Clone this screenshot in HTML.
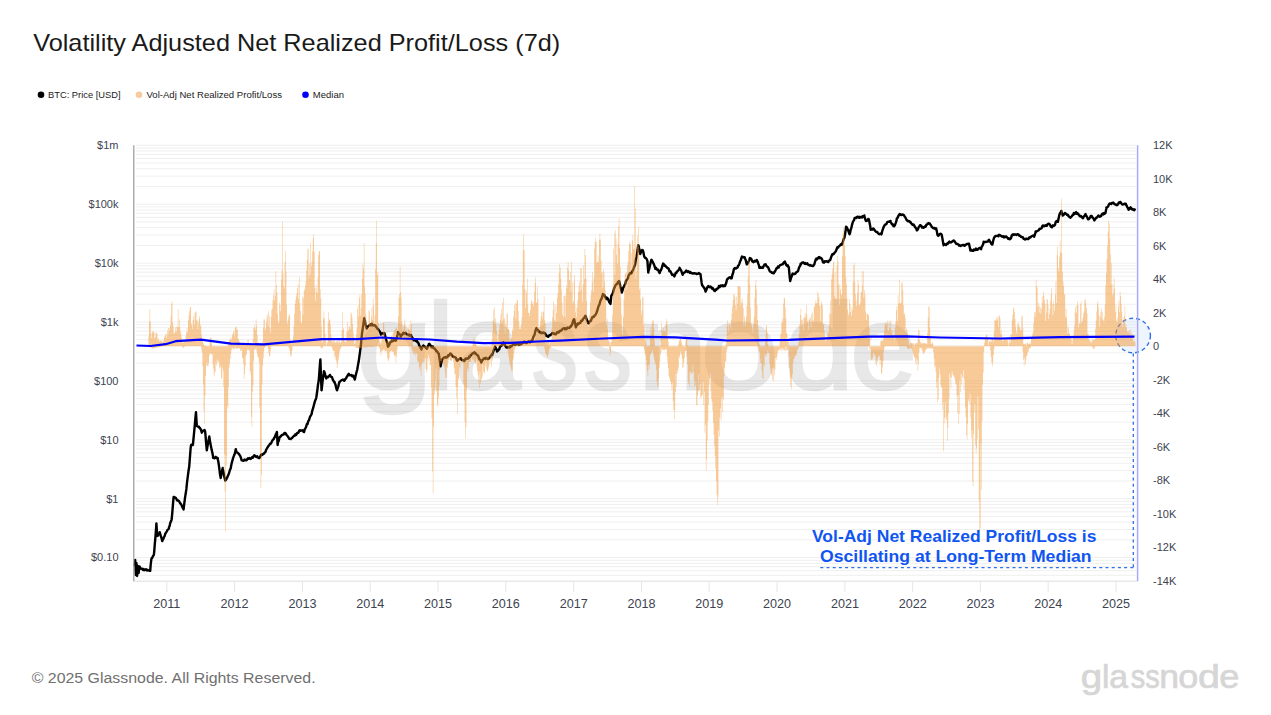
<!DOCTYPE html>
<html><head><meta charset="utf-8"><style>
html,body{margin:0;padding:0;background:#fff;width:1271px;height:715px;overflow:hidden}
svg{display:block;font-family:"Liberation Sans",sans-serif}
</style></head><body>
<svg width="1271" height="715" viewBox="0 0 1271 715">
<text x="33.2" y="51.3" font-size="23.6" fill="#1a1a1a" textLength="527" lengthAdjust="spacingAndGlyphs">Volatility Adjusted Net Realized Profit/Loss (7d)</text>
<g font-size="9.6" fill="#222">
<circle cx="41" cy="94.8" r="3.3" fill="#000"/><text x="48" y="98.3" textLength="72.6" lengthAdjust="spacingAndGlyphs">BTC: Price [USD]</text>
<circle cx="139" cy="94.8" r="3.3" fill="#f6cc9c"/><text x="146.5" y="98.3" textLength="135.5" lengthAdjust="spacingAndGlyphs">Vol-Adj Net Realized Profit/Loss</text>
<circle cx="305.5" cy="94.8" r="3.3" fill="#0000ff"/><text x="312.8" y="98.3" textLength="31.2" lengthAdjust="spacingAndGlyphs">Median</text>
</g>
<g stroke="#efefef" stroke-width="1"><line x1="136" x2="1136" y1="581.0" y2="581.0"/><line x1="136" x2="1136" y1="575.3" y2="575.3"/><line x1="136" x2="1136" y1="570.7" y2="570.7"/><line x1="136" x2="1136" y1="566.7" y2="566.7"/><line x1="136" x2="1136" y1="563.3" y2="563.3"/><line x1="136" x2="1136" y1="560.3" y2="560.3"/><line x1="136" x2="1136" y1="557.6" y2="557.6"/><line x1="136" x2="1136" y1="539.9" y2="539.9"/><line x1="136" x2="1136" y1="529.5" y2="529.5"/><line x1="136" x2="1136" y1="522.1" y2="522.1"/><line x1="136" x2="1136" y1="516.4" y2="516.4"/><line x1="136" x2="1136" y1="511.8" y2="511.8"/><line x1="136" x2="1136" y1="507.8" y2="507.8"/><line x1="136" x2="1136" y1="504.4" y2="504.4"/><line x1="136" x2="1136" y1="501.4" y2="501.4"/><line x1="136" x2="1136" y1="498.7" y2="498.7"/><line x1="136" x2="1136" y1="481.0" y2="481.0"/><line x1="136" x2="1136" y1="470.6" y2="470.6"/><line x1="136" x2="1136" y1="463.2" y2="463.2"/><line x1="136" x2="1136" y1="457.5" y2="457.5"/><line x1="136" x2="1136" y1="452.9" y2="452.9"/><line x1="136" x2="1136" y1="448.9" y2="448.9"/><line x1="136" x2="1136" y1="445.5" y2="445.5"/><line x1="136" x2="1136" y1="442.5" y2="442.5"/><line x1="136" x2="1136" y1="439.8" y2="439.8"/><line x1="136" x2="1136" y1="422.1" y2="422.1"/><line x1="136" x2="1136" y1="411.7" y2="411.7"/><line x1="136" x2="1136" y1="404.3" y2="404.3"/><line x1="136" x2="1136" y1="398.6" y2="398.6"/><line x1="136" x2="1136" y1="394.0" y2="394.0"/><line x1="136" x2="1136" y1="390.0" y2="390.0"/><line x1="136" x2="1136" y1="386.6" y2="386.6"/><line x1="136" x2="1136" y1="383.6" y2="383.6"/><line x1="136" x2="1136" y1="380.9" y2="380.9"/><line x1="136" x2="1136" y1="363.2" y2="363.2"/><line x1="136" x2="1136" y1="352.8" y2="352.8"/><line x1="136" x2="1136" y1="345.4" y2="345.4"/><line x1="136" x2="1136" y1="339.7" y2="339.7"/><line x1="136" x2="1136" y1="335.1" y2="335.1"/><line x1="136" x2="1136" y1="331.1" y2="331.1"/><line x1="136" x2="1136" y1="327.7" y2="327.7"/><line x1="136" x2="1136" y1="324.7" y2="324.7"/><line x1="136" x2="1136" y1="322.0" y2="322.0"/><line x1="136" x2="1136" y1="304.3" y2="304.3"/><line x1="136" x2="1136" y1="293.9" y2="293.9"/><line x1="136" x2="1136" y1="286.5" y2="286.5"/><line x1="136" x2="1136" y1="280.8" y2="280.8"/><line x1="136" x2="1136" y1="276.2" y2="276.2"/><line x1="136" x2="1136" y1="272.2" y2="272.2"/><line x1="136" x2="1136" y1="268.8" y2="268.8"/><line x1="136" x2="1136" y1="265.8" y2="265.8"/><line x1="136" x2="1136" y1="263.1" y2="263.1"/><line x1="136" x2="1136" y1="245.4" y2="245.4"/><line x1="136" x2="1136" y1="235.0" y2="235.0"/><line x1="136" x2="1136" y1="227.6" y2="227.6"/><line x1="136" x2="1136" y1="221.9" y2="221.9"/><line x1="136" x2="1136" y1="217.3" y2="217.3"/><line x1="136" x2="1136" y1="213.3" y2="213.3"/><line x1="136" x2="1136" y1="209.9" y2="209.9"/><line x1="136" x2="1136" y1="206.9" y2="206.9"/><line x1="136" x2="1136" y1="204.2" y2="204.2"/><line x1="136" x2="1136" y1="186.5" y2="186.5"/><line x1="136" x2="1136" y1="176.1" y2="176.1"/><line x1="136" x2="1136" y1="168.7" y2="168.7"/><line x1="136" x2="1136" y1="163.0" y2="163.0"/><line x1="136" x2="1136" y1="158.4" y2="158.4"/><line x1="136" x2="1136" y1="154.4" y2="154.4"/><line x1="136" x2="1136" y1="151.0" y2="151.0"/><line x1="136" x2="1136" y1="148.0" y2="148.0"/><line x1="136" x2="1136" y1="145.3" y2="145.3"/></g>
<g font-size="121.5" fill="#000" stroke="#000" stroke-width="2.7" opacity="0.088"><text transform="translate(356.6,389.2) scale(1.124,1)">g</text><text transform="translate(427.1,389.2) scale(1.000,1)">l</text><text transform="translate(455.4,389.2) scale(0.967,1)">a</text><text transform="translate(531.8,389.2) scale(0.762,1)">s</text><text transform="translate(583.6,389.2) scale(0.800,1)">s</text><text transform="translate(638.2,389.2) scale(1.015,1)">n</text><text transform="translate(700.4,389.2) scale(1.159,1)">o</text><text transform="translate(784.1,389.2) scale(1.032,1)">d</text><text transform="translate(850.3,389.2) scale(0.988,1)">e</text></g>
<circle cx="1133.1" cy="335.5" r="17.3" fill="rgba(190,215,250,0.25)" stroke="#2f6fe8" stroke-width="1.4" stroke-dasharray="4 3"/>
<path d="M134.6,566.0 L135.2,560.0 L135.3,562.7 L135.8,575.0 L136.0,570.9 L136.4,563.0 L136.7,567.7 L137.1,576.0 L137.4,570.8 L137.8,566.0 L138.1,567.7 L138.6,573.0 L138.8,571.1 L139.4,567.0 L139.5,566.4 L140.1,567.5 L140.2,567.7 L140.9,568.8 L141.6,568.9 L142.3,568.8 L143.0,570.0 L143.7,569.0 L144.4,570.2 L145.1,570.0 L145.1,570.0 L145.8,569.3 L146.5,569.4 L147.2,570.5 L147.9,569.9 L148.6,570.4 L149.3,570.8 L150.0,570.6 L150.2,570.8 L150.7,564.7 L151.4,558.8 L151.4,558.7 L152.1,557.9 L152.8,556.6 L153.5,555.2 L153.9,554.9 L154.2,551.6 L154.9,542.8 L155.2,539.8 L155.6,534.9 L156.3,525.1 L156.4,523.4 L157.0,532.7 L157.2,536.0 L157.7,535.8 L158.4,534.1 L159.1,534.0 L159.7,532.2 L159.8,532.3 L160.5,535.3 L161.2,537.0 L161.9,539.6 L162.2,541.1 L162.6,540.3 L163.3,539.0 L164.0,537.1 L164.7,535.9 L165.3,533.5 L165.4,533.7 L166.1,532.5 L166.8,531.3 L167.5,529.9 L168.2,529.3 L168.9,528.7 L169.0,527.2 L169.6,525.9 L170.3,522.8 L171.0,521.4 L171.6,519.6 L171.7,519.1 L172.4,511.4 L173.1,502.6 L173.6,497.0 L173.8,497.5 L174.5,497.0 L175.2,497.9 L175.9,498.0 L176.6,499.5 L176.6,499.5 L177.3,500.5 L178.0,500.4 L178.7,500.8 L179.4,501.7 L180.1,503.4 L180.4,503.3 L180.8,503.7 L181.5,505.0 L182.2,506.8 L182.9,508.2 L183.6,509.5 L183.7,508.3 L184.3,503.3 L185.0,497.9 L185.7,493.5 L186.4,488.9 L186.7,485.6 L187.1,481.8 L187.8,476.4 L188.5,471.0 L189.2,466.8 L189.2,466.7 L189.9,457.7 L190.6,448.5 L191.0,445.3 L191.3,444.7 L192.0,444.6 L192.7,445.1 L193.0,444.1 L193.4,439.7 L194.1,432.5 L194.8,425.2 L195.5,416.8 L196.0,412.1 L196.2,416.3 L196.8,425.2 L196.9,426.1 L197.6,426.2 L198.3,426.7 L199.0,426.6 L199.3,427.7 L199.7,427.7 L200.4,428.7 L201.1,430.1 L201.8,432.7 L201.8,432.7 L202.5,431.5 L203.2,430.7 L203.9,430.5 L204.6,430.1 L205.1,431.5 L205.3,432.9 L206.0,441.6 L206.7,449.3 L206.8,450.4 L207.4,446.7 L208.1,442.8 L208.8,438.9 L209.3,436.5 L209.5,437.9 L210.2,442.6 L210.9,445.9 L211.6,449.6 L212.3,452.6 L213.0,456.1 L213.1,457.9 L213.7,457.3 L214.4,458.2 L215.1,457.5 L215.8,456.8 L216.5,458.1 L217.2,458.1 L217.7,457.9 L217.9,459.5 L218.6,463.3 L219.3,468.4 L220.0,474.2 L220.7,478.1 L220.7,478.0 L221.4,474.1 L222.1,470.5 L222.7,468.0 L222.8,468.9 L223.5,472.3 L224.2,476.2 L224.9,479.1 L225.2,480.6 L225.6,480.2 L226.3,479.3 L227.0,477.9 L227.7,476.3 L228.4,474.7 L229.1,473.0 L229.8,470.3 L230.5,468.7 L230.8,468.0 L231.2,465.4 L231.9,462.3 L232.6,459.9 L233.3,457.4 L234.0,455.6 L234.7,454.0 L235.4,450.9 L235.8,449.1 L236.1,450.8 L236.8,452.4 L237.5,452.7 L238.2,453.2 L238.9,454.1 L239.6,455.0 L240.3,456.2 L241.0,458.1 L241.7,460.3 L242.1,460.5 L242.4,460.5 L243.1,460.6 L243.8,460.8 L244.5,459.5 L245.2,459.8 L245.9,460.3 L246.6,460.3 L247.1,459.2 L247.3,459.3 L248.0,458.3 L248.7,458.8 L249.4,458.1 L250.1,458.5 L250.8,458.9 L251.5,457.9 L252.2,457.2 L252.9,457.8 L253.4,456.7 L253.6,456.1 L254.3,455.2 L255.0,455.7 L255.7,456.5 L256.4,457.1 L257.1,456.2 L257.8,457.2 L258.5,458.1 L259.2,458.1 L259.8,457.4 L259.9,457.3 L260.6,455.8 L261.3,454.4 L262.0,455.1 L262.7,454.6 L263.4,453.7 L264.1,453.6 L264.8,452.3 L265.5,452.1 L265.7,450.9 L266.2,449.8 L266.9,448.5 L267.6,447.3 L268.3,446.1 L269.0,445.6 L269.7,444.3 L270.4,443.4 L270.5,443.8 L271.1,443.3 L271.8,441.6 L272.5,440.3 L273.2,439.4 L273.9,438.9 L274.0,437.9 L274.6,437.5 L275.3,435.7 L276.0,434.0 L276.7,432.5 L276.9,431.9 L277.4,441.4 L277.6,445.0 L278.1,442.1 L278.8,440.7 L279.5,437.6 L280.0,436.7 L280.2,436.9 L280.9,436.3 L281.6,435.3 L282.3,434.9 L283.0,434.5 L283.7,434.5 L284.4,432.9 L284.7,433.1 L285.1,433.0 L285.8,433.5 L286.5,435.0 L287.2,435.7 L287.9,436.5 L288.6,437.6 L289.3,438.8 L290.0,438.9 L290.7,439.1 L290.7,439.0 L291.4,438.3 L292.1,438.0 L292.8,437.0 L293.5,436.3 L294.2,435.5 L294.9,435.7 L295.4,434.3 L295.6,435.0 L296.3,434.8 L297.0,433.2 L297.7,432.6 L298.4,432.7 L299.0,431.2 L299.1,430.7 L299.8,430.3 L300.5,430.8 L301.2,430.4 L301.9,430.5 L302.6,430.3 L303.3,431.4 L303.7,431.9 L304.0,432.1 L304.7,429.4 L305.4,428.3 L306.1,426.9 L306.8,424.3 L307.3,423.6 L307.5,424.1 L308.2,421.3 L308.9,420.4 L309.6,418.1 L310.3,416.2 L311.0,415.3 L311.7,413.8 L312.0,411.7 L312.4,410.4 L313.1,408.2 L313.8,405.5 L314.5,402.8 L315.2,400.4 L315.9,398.9 L316.3,397.5 L316.6,395.5 L317.3,390.5 L318.0,384.7 L318.7,380.8 L318.7,380.8 L319.4,371.9 L320.1,362.1 L320.4,359.4 L320.8,371.3 L321.5,390.1 L321.6,390.3 L322.2,384.7 L322.9,378.4 L323.6,373.9 L323.9,371.3 L324.3,371.6 L325.0,373.9 L325.7,377.1 L326.3,378.4 L326.4,378.0 L327.1,376.8 L327.8,377.3 L328.5,376.6 L329.2,376.1 L329.9,374.9 L329.9,374.9 L330.6,376.2 L331.3,377.0 L332.0,377.2 L332.7,379.5 L333.4,380.6 L334.1,382.0 L334.6,382.0 L334.8,383.2 L335.5,384.6 L336.2,387.9 L336.9,390.1 L337.0,390.3 L337.6,388.3 L338.3,386.6 L339.0,383.4 L339.4,382.0 L339.7,381.9 L340.4,381.2 L341.1,380.5 L341.8,380.2 L342.5,379.7 L343.2,379.6 L343.9,379.7 L344.1,380.8 L344.6,380.6 L345.3,379.1 L346.0,378.4 L346.7,376.9 L347.4,376.1 L348.1,374.6 L348.8,373.8 L348.9,374.9 L349.5,375.2 L350.2,375.4 L350.9,374.9 L351.6,375.2 L352.3,376.4 L353.0,375.5 L353.6,376.1 L353.7,376.2 L354.4,378.3 L354.8,379.6 L355.1,378.3 L355.8,375.1 L356.5,372.2 L357.2,369.7 L357.9,365.6 L358.4,363.0 L358.6,362.1 L359.3,357.2 L360.0,351.9 L360.7,346.7 L360.8,346.4 L361.4,339.7 L362.1,332.8 L362.4,330.9 L362.8,328.1 L363.5,323.1 L364.2,318.2 L364.3,318.5 L364.9,321.6 L365.6,324.5 L366.3,326.7 L366.7,328.5 L367.0,327.8 L367.7,327.2 L368.4,326.0 L369.1,325.6 L369.8,324.7 L370.5,325.2 L371.2,325.2 L371.5,323.8 L371.9,323.7 L372.6,325.3 L373.3,325.2 L374.0,325.4 L374.7,325.1 L375.4,325.9 L376.1,326.7 L376.2,327.3 L376.8,327.6 L377.5,328.9 L378.2,329.2 L378.9,330.3 L379.6,331.0 L380.3,332.5 L381.0,334.5 L381.0,334.5 L381.7,333.7 L382.4,333.2 L383.1,333.5 L383.8,333.4 L384.5,333.3 L384.5,333.3 L385.2,336.1 L385.9,339.2 L386.6,341.1 L387.3,343.2 L388.0,346.8 L388.1,346.4 L388.7,345.8 L389.4,344.7 L390.1,342.4 L390.8,342.2 L391.5,341.6 L391.7,340.4 L392.2,340.9 L392.9,341.2 L393.6,340.1 L394.3,340.2 L395.0,340.2 L395.7,340.8 L396.0,340.1 L396.4,339.4 L397.1,336.4 L397.8,334.1 L398.0,332.1 L398.5,333.5 L399.2,333.9 L399.9,334.4 L400.6,335.4 L400.7,336.8 L401.3,335.0 L402.0,335.0 L402.7,334.0 L403.4,332.8 L403.4,332.8 L404.1,333.5 L404.8,333.5 L405.5,332.8 L406.2,334.0 L406.7,334.1 L406.9,334.3 L407.6,334.6 L408.3,335.2 L409.0,334.5 L409.7,335.5 L410.4,335.3 L411.1,335.0 L411.4,336.1 L411.8,337.2 L412.5,337.9 L413.2,339.9 L413.4,340.1 L413.9,340.4 L414.6,340.2 L415.3,340.4 L416.0,340.9 L416.7,341.5 L416.8,340.8 L417.4,342.2 L418.1,342.4 L418.8,344.1 L418.8,344.2 L419.5,346.0 L420.2,346.8 L420.9,348.5 L421.4,349.5 L421.6,348.2 L422.3,346.8 L423.0,346.1 L423.4,345.5 L423.7,346.1 L424.4,346.2 L425.1,347.1 L425.8,347.7 L426.5,348.4 L426.8,348.8 L427.2,348.5 L427.9,346.0 L428.6,345.4 L428.8,344.1 L429.3,343.8 L430.0,344.6 L430.7,345.9 L431.4,347.2 L431.5,346.1 L432.1,346.3 L432.8,346.5 L433.5,348.3 L434.2,348.1 L434.9,349.0 L435.5,349.5 L435.6,349.6 L436.3,351.3 L437.0,351.1 L437.7,352.6 L438.4,353.3 L438.8,353.5 L439.1,356.1 L439.8,360.4 L440.5,366.4 L440.6,366.2 L441.2,363.3 L441.9,360.5 L442.6,358.8 L442.8,358.9 L443.3,358.2 L444.0,357.5 L444.7,357.3 L445.4,357.0 L446.1,357.8 L446.2,357.5 L446.8,357.2 L447.5,357.0 L448.2,355.2 L448.9,355.5 L449.6,354.9 L450.2,353.5 L450.3,353.4 L451.0,354.0 L451.7,354.6 L452.4,356.4 L452.9,356.2 L453.1,356.2 L453.8,356.9 L454.5,357.3 L455.2,357.3 L455.9,357.8 L456.6,359.8 L456.9,360.2 L457.3,360.8 L458.0,359.8 L458.7,359.1 L459.4,359.1 L460.1,358.4 L460.8,358.2 L460.9,358.9 L461.5,359.8 L462.2,360.1 L462.9,360.0 L463.6,360.5 L464.3,360.9 L464.9,359.5 L465.0,360.0 L465.7,358.6 L466.4,358.9 L467.1,358.4 L467.8,358.5 L468.5,358.3 L468.9,357.5 L469.2,356.4 L469.9,356.9 L470.6,355.3 L471.3,354.8 L472.0,354.0 L472.7,353.1 L473.4,353.1 L474.1,353.3 L474.3,352.2 L474.8,353.0 L475.5,353.2 L476.2,354.1 L476.9,354.8 L476.9,354.8 L477.6,355.2 L478.3,356.1 L479.0,358.5 L479.7,359.6 L480.4,360.1 L481.0,361.5 L481.1,362.5 L481.8,361.4 L482.5,360.1 L483.2,359.2 L483.9,358.3 L484.6,358.1 L485.0,358.9 L485.3,358.1 L486.0,357.8 L486.7,358.2 L487.4,359.0 L488.1,359.1 L488.8,358.5 L489.0,358.2 L489.5,357.7 L490.2,356.8 L490.9,355.8 L491.6,354.5 L492.3,354.9 L492.3,354.8 L493.0,352.2 L493.7,350.4 L494.4,348.7 L495.0,346.8 L495.1,346.6 L495.8,348.0 L496.5,349.5 L497.0,351.5 L497.2,351.0 L497.9,350.8 L498.6,350.0 L499.3,349.1 L500.0,346.5 L500.4,346.1 L500.7,346.0 L501.4,346.0 L502.1,344.8 L502.8,344.1 L503.5,342.3 L503.7,342.8 L504.2,344.1 L504.9,345.2 L505.6,346.3 L506.3,347.4 L507.0,347.0 L507.7,347.5 L507.7,347.5 L508.4,347.1 L509.1,347.1 L509.8,347.4 L510.4,346.1 L510.5,346.5 L511.2,346.5 L511.9,345.7 L512.6,345.3 L513.3,344.0 L514.0,344.5 L514.4,344.1 L514.7,344.9 L515.4,344.9 L516.1,344.4 L516.8,343.7 L517.5,343.7 L518.2,344.4 L518.9,345.0 L519.6,344.2 L519.7,344.8 L520.3,344.4 L521.0,344.3 L521.7,343.7 L522.4,342.9 L523.1,343.0 L523.8,341.8 L524.5,341.5 L525.1,342.1 L525.2,342.9 L525.9,342.8 L526.6,343.1 L527.3,342.5 L528.0,341.7 L528.7,341.2 L529.4,342.3 L530.1,342.3 L530.8,341.6 L531.5,340.6 L531.8,341.5 L532.2,340.6 L532.9,338.5 L533.6,336.2 L533.8,336.1 L534.3,335.5 L535.0,332.7 L535.7,329.9 L536.4,328.1 L536.5,328.8 L537.1,329.6 L537.8,329.7 L538.5,331.1 L539.2,332.1 L539.8,332.1 L539.9,331.6 L540.6,332.9 L541.3,332.5 L542.0,333.2 L542.7,332.6 L543.4,332.4 L544.1,333.3 L544.8,333.0 L545.2,333.4 L545.5,334.2 L546.2,335.0 L546.5,336.1 L546.9,335.8 L547.6,336.1 L548.3,336.8 L549.0,335.5 L549.7,335.3 L550.4,334.8 L550.5,335.4 L551.1,334.6 L551.8,333.6 L552.5,333.0 L553.2,333.1 L553.9,333.9 L554.5,333.4 L554.6,334.0 L555.3,334.4 L556.0,334.3 L556.7,333.0 L557.4,331.9 L558.1,332.6 L558.8,332.4 L559.5,330.9 L560.2,331.1 L560.9,330.5 L561.4,330.5 L561.6,330.1 L562.3,329.3 L563.0,328.4 L563.7,328.4 L564.4,328.3 L565.1,329.3 L565.8,328.2 L566.5,329.0 L567.2,327.9 L567.9,327.4 L568.6,327.9 L569.3,328.0 L570.0,327.3 L570.7,326.0 L571.1,326.5 L571.4,325.4 L572.1,324.6 L572.8,321.9 L573.5,320.0 L574.0,319.2 L574.2,319.4 L574.9,322.5 L575.6,326.3 L575.9,327.3 L576.3,326.1 L577.0,324.7 L577.7,323.6 L578.4,324.3 L579.1,323.1 L579.8,322.9 L580.5,322.8 L580.7,321.7 L581.2,320.7 L581.9,320.9 L582.6,320.0 L583.3,318.5 L584.0,318.2 L584.7,316.9 L585.4,315.7 L585.6,316.0 L586.1,317.5 L586.8,319.8 L587.5,321.2 L588.2,323.3 L588.8,323.3 L588.9,322.5 L589.6,321.5 L590.3,321.3 L591.0,320.6 L591.7,318.6 L592.0,317.6 L592.4,317.2 L593.1,316.7 L593.8,317.0 L594.5,315.6 L595.2,315.2 L595.2,315.2 L595.9,314.1 L596.6,312.5 L597.3,310.5 L598.0,308.0 L598.7,305.8 L599.2,304.8 L599.4,304.8 L600.1,301.9 L600.8,299.8 L601.5,298.8 L602.2,296.5 L602.9,294.1 L603.2,294.3 L603.6,294.5 L604.3,295.0 L605.0,296.8 L605.7,297.9 L606.4,299.0 L606.5,297.5 L607.1,297.8 L607.8,298.5 L608.5,300.2 L609.2,302.0 L609.9,303.0 L610.5,304.0 L610.6,302.5 L611.3,295.9 L611.3,295.9 L612.0,294.6 L612.7,293.2 L613.4,291.2 L614.1,288.3 L614.8,287.3 L615.3,285.5 L615.5,285.4 L616.2,284.4 L616.9,284.2 L617.6,282.8 L618.3,281.8 L619.0,280.9 L619.3,281.5 L619.7,283.6 L620.4,286.6 L621.1,289.1 L621.7,291.9 L621.8,292.6 L622.5,290.4 L623.2,287.9 L623.9,286.7 L624.6,285.0 L625.3,283.9 L625.8,281.5 L626.0,280.9 L626.7,280.1 L627.4,279.1 L628.1,278.1 L628.2,276.6 L628.8,275.4 L629.5,274.0 L630.2,273.0 L630.9,273.5 L631.4,272.6 L631.6,273.0 L632.3,271.0 L633.0,270.2 L633.7,268.3 L634.4,266.3 L634.6,266.2 L635.1,264.6 L635.8,259.9 L636.5,256.7 L637.0,254.1 L637.2,252.3 L637.9,247.5 L638.3,245.3 L638.6,246.0 L639.3,249.0 L640.0,252.8 L640.2,254.1 L640.7,252.8 L641.4,250.9 L642.1,250.0 L642.6,250.1 L642.8,250.1 L643.5,252.9 L644.2,256.4 L644.2,256.5 L644.9,257.7 L645.6,257.8 L646.3,258.5 L647.0,259.8 L647.5,261.4 L647.7,264.9 L648.3,272.6 L648.4,271.3 L649.1,269.2 L649.8,266.3 L650.5,263.1 L651.2,260.2 L651.5,259.7 L651.9,260.3 L652.6,262.0 L653.3,263.1 L654.0,264.5 L654.7,266.7 L655.4,268.8 L655.5,267.8 L656.1,268.0 L656.8,269.5 L657.5,269.7 L658.2,269.8 L658.9,272.0 L659.5,272.6 L659.6,273.0 L660.3,271.0 L661.0,270.2 L661.7,268.2 L662.4,265.8 L663.1,263.6 L663.5,263.8 L663.8,264.2 L664.5,265.7 L665.2,265.4 L665.9,266.5 L666.6,267.1 L667.3,268.0 L668.0,268.1 L668.7,268.9 L669.2,270.2 L669.4,271.2 L670.1,271.0 L670.8,271.9 L671.5,273.4 L672.2,274.9 L672.9,274.6 L673.6,274.7 L674.0,275.8 L674.3,276.4 L675.0,274.9 L675.7,272.8 L676.4,272.9 L677.1,271.4 L677.8,271.2 L678.5,270.1 L679.2,269.4 L679.6,267.8 L679.9,268.9 L680.6,269.5 L681.3,270.8 L682.0,273.0 L682.7,274.8 L682.8,274.2 L683.4,273.2 L684.1,272.7 L684.8,272.4 L685.5,271.7 L686.2,270.6 L686.9,271.0 L686.9,271.0 L687.6,272.1 L688.3,271.2 L689.0,271.8 L689.7,272.7 L690.4,271.9 L691.1,273.1 L691.7,273.1 L691.8,273.2 L692.5,273.3 L693.2,273.6 L693.9,273.2 L694.6,273.2 L695.3,273.6 L696.0,273.5 L696.7,274.0 L697.4,273.8 L698.1,273.8 L698.8,273.0 L699.5,273.8 L700.2,274.0 L700.5,274.2 L700.9,277.3 L701.6,282.5 L702.1,285.3 L702.3,285.1 L703.0,286.5 L703.7,287.2 L704.4,288.2 L705.1,289.9 L705.6,291.6 L705.8,290.8 L706.5,289.6 L707.2,287.4 L707.9,286.7 L708.4,286.0 L708.6,286.4 L709.3,287.1 L710.0,287.2 L710.7,286.5 L711.2,287.4 L711.4,287.2 L712.1,288.7 L712.8,288.1 L713.5,289.4 L714.2,290.6 L714.9,291.0 L715.4,290.2 L715.6,289.5 L716.3,289.8 L717.0,288.6 L717.7,288.5 L718.4,287.9 L718.9,286.0 L719.1,286.5 L719.8,287.0 L720.5,285.7 L721.2,285.4 L721.9,286.0 L722.6,285.2 L723.3,286.2 L724.0,285.5 L724.7,286.1 L725.2,285.6 L725.4,284.8 L726.1,283.4 L726.8,280.3 L727.3,279.0 L727.5,278.9 L728.2,278.4 L728.9,277.6 L729.6,277.4 L730.3,277.2 L731.0,278.5 L731.5,278.3 L731.7,278.3 L732.4,274.8 L733.1,273.0 L733.8,269.6 L734.3,268.5 L734.5,268.6 L735.2,268.0 L735.9,268.5 L736.6,268.0 L737.3,267.7 L737.7,267.1 L738.0,265.9 L738.7,265.3 L739.4,263.6 L740.1,261.3 L740.8,260.1 L741.5,257.6 L741.9,256.6 L742.2,257.0 L742.9,256.8 L743.6,257.5 L744.3,257.3 L744.7,257.3 L745.0,258.6 L745.7,259.9 L746.4,263.1 L746.8,264.3 L747.1,264.0 L747.8,263.4 L748.5,261.7 L749.2,260.3 L749.6,258.7 L749.9,258.0 L750.6,258.3 L751.3,258.9 L752.0,260.5 L752.4,261.5 L752.7,261.5 L753.4,262.2 L754.1,261.2 L754.8,260.8 L755.5,261.4 L756.2,260.6 L756.9,260.0 L757.3,261.5 L757.6,261.4 L758.3,263.7 L759.0,265.6 L759.4,267.8 L759.7,267.9 L760.4,267.3 L761.1,267.8 L761.8,267.7 L762.5,267.1 L762.9,267.8 L763.2,267.0 L763.9,265.7 L764.6,264.4 L765.3,264.4 L765.7,264.3 L766.0,265.4 L766.7,266.1 L767.4,266.8 L768.1,267.2 L768.8,269.1 L769.5,270.6 L769.9,271.3 L770.2,271.6 L770.9,271.6 L771.6,272.7 L772.3,273.0 L773.0,272.4 L773.7,273.3 L774.1,272.7 L774.4,272.3 L775.1,271.2 L775.8,269.8 L776.5,268.3 L777.2,268.4 L777.9,266.6 L778.3,267.1 L778.6,267.6 L779.3,266.1 L780.0,265.1 L780.7,265.0 L781.4,264.6 L782.1,264.4 L782.8,264.3 L783.5,262.8 L784.2,262.0 L784.6,262.2 L784.9,261.6 L785.6,263.6 L786.3,264.9 L787.0,265.8 L787.7,265.3 L788.4,267.0 L788.8,267.1 L789.1,270.4 L789.8,277.8 L790.2,281.1 L790.5,279.8 L791.2,277.5 L791.9,275.7 L792.6,273.6 L793.0,274.1 L793.3,274.2 L794.0,274.0 L794.7,274.1 L795.4,273.6 L796.1,272.4 L796.8,272.0 L797.5,271.5 L797.9,271.3 L798.2,270.5 L798.9,268.1 L799.6,266.6 L800.3,265.5 L800.7,263.6 L801.0,264.3 L801.7,262.9 L802.4,262.6 L803.1,262.3 L803.8,263.0 L804.5,263.8 L804.9,262.9 L805.2,262.9 L805.9,263.9 L806.6,263.6 L807.3,263.3 L808.0,264.6 L808.7,264.9 L809.4,265.3 L810.1,265.6 L810.4,265.0 L810.8,265.2 L811.5,265.7 L812.2,265.8 L812.9,266.1 L813.6,265.5 L813.9,265.0 L814.3,264.3 L815.0,261.9 L815.7,259.6 L816.0,259.4 L816.4,258.5 L817.1,259.4 L817.8,258.3 L818.5,257.4 L819.2,257.0 L819.9,258.2 L820.2,258.0 L820.6,257.8 L821.3,258.3 L822.0,259.1 L822.7,261.2 L823.0,262.2 L823.4,262.5 L824.1,262.6 L824.8,261.3 L825.5,261.5 L826.2,261.1 L826.9,261.7 L827.6,261.9 L828.3,262.1 L828.6,260.8 L829.0,260.9 L829.7,260.3 L830.4,259.6 L831.1,257.2 L831.8,255.5 L832.5,254.0 L832.8,254.5 L833.2,254.4 L833.9,253.8 L834.6,252.7 L835.3,252.0 L836.0,250.8 L836.7,249.0 L837.4,247.2 L837.7,247.5 L838.1,247.6 L838.8,246.4 L839.5,245.8 L840.2,245.4 L840.9,244.2 L841.6,243.8 L841.9,244.7 L842.3,243.8 L843.0,241.3 L843.7,238.9 L844.4,237.9 L844.7,236.3 L845.1,234.2 L845.8,229.2 L846.1,226.6 L846.5,227.0 L847.2,228.1 L847.9,229.9 L848.2,230.1 L848.6,231.7 L849.3,233.7 L849.6,234.3 L850.0,233.3 L850.7,229.6 L851.4,227.8 L852.1,224.4 L852.4,223.8 L852.8,221.9 L853.5,220.9 L854.2,219.9 L854.5,218.2 L854.9,217.9 L855.6,217.7 L856.3,218.0 L857.0,216.9 L857.7,216.7 L858.0,216.8 L858.4,217.4 L859.1,216.8 L859.8,217.8 L860.5,217.2 L861.2,216.8 L861.9,217.5 L862.2,217.5 L862.6,216.3 L863.3,216.4 L863.3,216.4 L864.0,216.1 L864.3,215.4 L864.7,217.4 L865.4,219.7 L866.0,221.1 L866.1,220.8 L866.8,220.2 L867.5,220.6 L868.2,219.0 L868.7,219.1 L868.9,219.4 L869.6,222.9 L870.3,226.6 L870.7,229.8 L871.0,229.7 L871.7,229.1 L872.4,229.5 L873.1,228.4 L873.4,228.4 L873.8,228.9 L874.5,230.1 L875.2,231.0 L875.9,231.7 L876.6,231.8 L877.3,232.1 L877.4,232.5 L878.0,233.3 L878.7,233.7 L879.4,234.2 L880.1,233.6 L880.8,233.9 L881.4,234.5 L881.5,234.3 L882.2,231.2 L882.9,229.1 L883.4,227.8 L883.6,227.1 L884.3,225.7 L885.0,224.7 L885.7,224.5 L886.4,224.2 L886.8,223.1 L887.1,222.3 L887.8,221.9 L888.5,221.7 L889.2,221.9 L889.9,221.2 L890.6,221.0 L890.8,221.8 L891.3,223.2 L892.0,224.3 L892.7,224.2 L893.4,226.2 L894.1,226.4 L894.1,226.4 L894.8,225.4 L895.5,223.6 L896.2,221.7 L896.8,219.1 L896.9,218.4 L897.6,217.8 L898.3,216.0 L899.0,214.8 L899.5,215.1 L899.7,214.0 L900.4,214.1 L901.1,214.9 L901.8,215.0 L902.5,214.7 L902.8,214.4 L903.2,214.9 L903.9,215.1 L904.6,216.5 L905.3,217.3 L906.0,218.8 L906.7,220.3 L907.4,220.7 L907.5,220.4 L908.1,221.3 L908.8,221.3 L909.5,221.2 L910.2,222.2 L910.8,222.4 L910.9,223.1 L911.6,223.7 L912.3,224.6 L913.0,225.0 L913.5,224.4 L913.7,224.8 L914.4,225.7 L915.1,227.4 L915.8,227.8 L916.5,229.3 L916.8,230.4 L917.2,230.3 L917.9,229.3 L918.6,227.4 L919.3,226.3 L920.0,225.2 L920.2,225.1 L920.7,225.3 L921.4,226.3 L922.1,227.6 L922.8,227.1 L923.5,227.7 L923.5,227.8 L924.2,227.1 L924.9,226.5 L925.6,226.8 L926.3,224.9 L927.0,224.6 L927.7,223.4 L928.4,223.7 L928.9,223.1 L929.1,223.5 L929.8,223.5 L930.5,224.8 L931.2,225.8 L931.9,227.1 L932.2,227.1 L932.6,227.5 L933.3,228.3 L934.0,228.2 L934.7,228.0 L935.4,229.1 L936.1,228.3 L936.2,228.4 L936.8,231.1 L937.5,235.1 L937.6,235.1 L938.2,235.9 L938.9,235.1 L939.6,234.1 L940.3,233.8 L941.0,233.9 L941.6,234.5 L941.7,234.7 L942.4,238.4 L943.1,242.7 L943.6,245.2 L943.8,244.6 L944.5,244.0 L945.2,244.5 L945.9,245.0 L946.6,244.4 L947.3,243.3 L948.0,243.7 L948.3,243.2 L948.7,242.4 L949.4,241.6 L950.1,242.2 L950.8,242.5 L951.5,242.1 L952.2,241.5 L952.9,241.1 L953.6,240.5 L953.6,240.5 L954.3,240.9 L955.0,241.9 L955.7,243.0 L956.4,243.9 L957.1,244.0 L957.8,244.0 L958.5,244.8 L959.0,245.2 L959.2,245.7 L959.9,245.3 L960.6,246.0 L961.3,245.4 L962.0,245.3 L962.7,245.0 L963.4,245.2 L964.1,244.9 L964.3,245.8 L964.8,245.8 L965.5,245.0 L966.2,244.4 L966.9,244.0 L967.6,244.0 L968.3,243.7 L969.0,243.8 L969.0,243.8 L969.7,247.0 L970.4,250.5 L970.4,250.5 L971.1,249.6 L971.8,250.4 L972.5,250.9 L973.2,250.9 L973.9,249.6 L974.6,250.1 L975.3,250.0 L976.0,248.6 L976.4,249.2 L976.7,249.8 L977.4,249.8 L978.1,249.1 L978.8,248.4 L979.5,248.0 L980.2,248.0 L980.9,249.1 L981.1,249.2 L981.6,247.0 L982.3,246.1 L983.0,244.6 L983.7,241.9 L983.7,241.8 L984.4,241.9 L985.1,242.0 L985.8,241.8 L986.5,241.9 L987.2,241.7 L987.9,241.5 L988.6,240.1 L989.1,239.8 L989.3,240.2 L990.0,241.6 L990.7,242.3 L991.4,243.9 L992.1,244.6 L992.4,244.5 L992.8,242.6 L993.5,239.6 L994.2,237.4 L994.4,237.1 L994.9,236.7 L995.6,235.9 L996.3,236.0 L997.0,235.9 L997.7,235.8 L998.4,236.3 L999.1,234.8 L999.8,235.1 L999.8,235.1 L1000.5,235.5 L1001.2,236.0 L1001.9,236.7 L1002.6,236.3 L1003.3,236.3 L1004.0,237.4 L1004.7,236.4 L1005.4,237.1 L1005.8,237.1 L1006.1,236.4 L1006.8,237.2 L1007.5,237.8 L1008.2,238.8 L1008.9,238.2 L1009.6,239.2 L1010.3,239.0 L1010.5,238.5 L1011.0,238.2 L1011.7,235.6 L1012.4,234.8 L1012.5,234.5 L1013.1,234.2 L1013.8,235.0 L1014.5,234.5 L1015.2,234.4 L1015.9,234.5 L1016.6,235.0 L1017.3,234.2 L1018.0,234.2 L1018.5,234.5 L1018.7,234.7 L1019.4,235.7 L1020.1,235.6 L1020.8,236.7 L1021.5,236.7 L1022.2,237.2 L1022.9,237.2 L1023.2,237.8 L1023.6,238.8 L1024.3,238.9 L1025.0,239.4 L1025.7,238.9 L1026.4,238.6 L1027.1,239.1 L1027.1,239.1 L1027.8,239.0 L1028.5,239.0 L1029.2,237.4 L1029.9,237.6 L1030.4,237.2 L1030.6,237.4 L1031.3,236.4 L1032.0,236.2 L1032.7,235.6 L1033.4,235.5 L1034.1,236.8 L1034.2,236.7 L1034.8,234.8 L1035.5,232.6 L1035.6,231.5 L1036.2,231.6 L1036.9,231.2 L1037.6,230.8 L1038.3,230.5 L1039.0,229.9 L1039.4,229.2 L1039.7,228.6 L1040.4,228.8 L1041.1,228.5 L1041.7,228.2 L1041.8,227.4 L1042.5,225.7 L1043.1,225.4 L1043.2,225.7 L1043.9,226.3 L1044.6,226.0 L1045.3,225.3 L1046.0,225.8 L1046.7,225.9 L1046.9,224.9 L1047.4,224.4 L1048.1,223.9 L1048.8,223.7 L1049.3,224.0 L1049.5,224.0 L1050.2,225.2 L1050.9,226.8 L1051.6,226.4 L1052.1,227.3 L1052.3,226.3 L1053.0,225.3 L1053.7,225.9 L1054.4,225.5 L1054.9,224.9 L1055.1,224.5 L1055.8,221.7 L1056.4,221.2 L1056.5,221.1 L1057.2,221.6 L1057.9,221.8 L1058.2,220.2 L1058.6,218.6 L1059.3,214.9 L1059.7,214.1 L1060.0,213.2 L1060.7,212.1 L1061.4,210.9 L1061.5,212.2 L1062.1,213.9 L1062.5,215.0 L1062.8,215.6 L1063.5,214.0 L1064.2,214.4 L1064.9,213.0 L1065.3,213.1 L1065.6,213.6 L1066.3,213.6 L1067.0,214.8 L1067.7,214.7 L1068.2,215.5 L1068.4,216.0 L1069.1,216.6 L1069.8,217.3 L1070.5,217.7 L1071.0,216.9 L1071.2,216.8 L1071.9,216.2 L1072.6,215.0 L1073.3,214.8 L1073.8,213.1 L1074.0,214.0 L1074.7,214.0 L1075.4,212.7 L1076.1,212.0 L1076.7,213.1 L1076.8,213.8 L1077.5,213.3 L1078.2,213.8 L1078.9,215.1 L1079.5,215.5 L1079.6,216.2 L1080.3,216.5 L1081.0,216.1 L1081.7,216.8 L1082.4,217.8 L1082.8,218.3 L1083.1,218.2 L1083.8,216.3 L1084.5,216.1 L1085.2,214.6 L1085.6,214.1 L1085.9,215.0 L1086.6,216.2 L1087.3,217.5 L1088.0,219.3 L1088.0,219.3 L1088.7,219.3 L1089.4,218.5 L1090.1,217.3 L1090.8,215.9 L1091.5,216.6 L1091.8,216.0 L1092.2,217.3 L1092.9,217.6 L1093.6,218.7 L1094.3,220.4 L1094.6,219.7 L1095.0,219.7 L1095.7,218.4 L1096.4,217.5 L1097.1,217.5 L1097.8,216.2 L1098.4,215.5 L1098.5,215.8 L1099.2,216.5 L1099.9,216.8 L1100.6,216.0 L1101.2,216.0 L1101.3,215.2 L1102.0,214.2 L1102.6,213.6 L1102.7,214.2 L1103.4,214.5 L1104.1,213.1 L1104.8,213.7 L1105.5,213.1 L1105.5,212.9 L1106.2,209.0 L1106.4,207.5 L1106.9,207.5 L1107.6,207.0 L1108.3,206.1 L1108.8,204.6 L1109.0,204.4 L1109.7,203.4 L1110.4,203.6 L1111.1,204.0 L1111.8,202.9 L1112.5,203.2 L1113.0,202.7 L1113.2,202.5 L1113.9,203.4 L1114.6,204.2 L1115.3,204.5 L1116.0,204.4 L1116.3,205.1 L1116.7,205.2 L1117.4,205.0 L1118.1,204.1 L1118.8,202.6 L1119.5,203.0 L1120.1,202.3 L1120.2,201.9 L1120.9,202.6 L1121.6,203.7 L1122.3,204.5 L1123.0,204.4 L1123.7,204.4 L1123.9,204.2 L1124.4,203.8 L1125.1,203.8 L1125.8,203.8 L1126.2,205.1 L1126.5,205.3 L1127.2,207.0 L1127.9,208.2 L1128.6,209.8 L1128.6,209.8 L1129.3,208.1 L1130.0,208.8 L1130.5,207.9 L1130.7,207.3 L1131.4,208.4 L1132.1,209.4 L1132.8,209.0 L1133.5,209.8 L1134.2,210.0 L1134.3,210.3 L1135.2,208.4" fill="none" stroke="#000" stroke-width="2.4" stroke-linejoin="round"/>
<path d="M148.4,336.2h0.6V346.2h-0.6ZM149.0,321.3h0.6V346.2h-0.6ZM149.6,309.3h0.6V346.2h-0.6ZM150.2,322.1h0.6V346.2h-0.6ZM150.2,346.2h0.6V346.7h-0.6ZM150.8,333.3h0.6V346.2h-0.6ZM150.8,346.2h0.6V347.4h-0.6ZM151.4,338.0h0.6V346.2h-0.6ZM151.4,346.2h0.6V347.9h-0.6ZM152.0,332.3h0.6V346.2h-0.6ZM152.0,346.2h0.6V348.4h-0.6ZM152.6,331.4h0.6V346.2h-0.6ZM152.6,346.2h0.6V348.0h-0.6ZM153.2,331.0h0.6V346.2h-0.6ZM153.2,346.2h0.6V348.3h-0.6ZM153.8,332.5h0.6V346.2h-0.6ZM153.8,346.2h0.6V348.1h-0.6ZM154.4,338.4h0.6V346.2h-0.6ZM154.4,346.2h0.6V347.9h-0.6ZM155.0,337.0h0.6V346.2h-0.6ZM155.0,346.2h0.6V347.9h-0.6ZM155.6,332.8h0.6V346.2h-0.6ZM155.6,346.2h0.6V347.3h-0.6ZM156.2,332.3h0.6V346.2h-0.6ZM156.2,346.2h0.6V347.7h-0.6ZM156.8,333.9h0.6V346.2h-0.6ZM156.8,346.2h0.6V347.5h-0.6ZM157.4,340.2h0.6V346.2h-0.6ZM157.4,346.2h0.6V347.0h-0.6ZM158.0,338.0h0.6V346.2h-0.6ZM158.0,346.2h0.6V347.2h-0.6ZM158.6,340.5h0.6V346.2h-0.6ZM158.6,346.2h0.6V347.2h-0.6ZM159.2,341.2h0.6V346.2h-0.6ZM159.2,346.2h0.6V347.1h-0.6ZM159.8,339.9h0.6V346.2h-0.6ZM159.8,346.2h0.6V346.7h-0.6ZM160.4,341.1h0.6V346.2h-0.6ZM160.4,346.2h0.6V346.8h-0.6ZM161.0,341.2h0.6V346.2h-0.6ZM161.0,346.2h0.6V346.7h-0.6ZM161.6,340.6h0.6V346.2h-0.6ZM161.6,346.2h0.6V346.6h-0.6ZM162.2,343.7h0.6V346.2h-0.6ZM162.8,342.1h0.6V346.2h-0.6ZM163.4,339.7h0.6V346.2h-0.6ZM164.0,337.5h0.6V346.2h-0.6ZM164.6,336.0h0.6V346.2h-0.6ZM165.2,334.5h0.6V346.2h-0.6ZM165.8,333.0h0.6V346.2h-0.6ZM166.4,338.0h0.6V346.2h-0.6ZM167.0,330.0h0.6V346.2h-0.6ZM167.6,335.0h0.6V346.2h-0.6ZM168.2,328.0h0.6V346.2h-0.6ZM168.8,331.2h0.6V346.2h-0.6ZM169.4,327.7h0.6V346.2h-0.6ZM170.0,325.6h0.6V346.2h-0.6ZM170.6,316.1h0.6V346.2h-0.6ZM171.2,303.4h0.6V346.2h-0.6ZM171.8,301.5h0.6V346.2h-0.6ZM172.4,322.4h0.6V346.2h-0.6ZM173.0,326.3h0.6V346.2h-0.6ZM173.6,333.5h0.6V346.2h-0.6ZM174.2,333.2h0.6V346.2h-0.6ZM174.8,332.1h0.6V346.2h-0.6ZM175.4,327.3h0.6V346.2h-0.6ZM176.0,331.8h0.6V346.2h-0.6ZM176.6,326.4h0.6V346.2h-0.6ZM177.2,326.9h0.6V346.2h-0.6ZM177.8,309.3h0.6V346.2h-0.6ZM178.4,326.8h0.6V346.2h-0.6ZM179.0,319.3h0.6V346.2h-0.6ZM179.6,327.2h0.6V346.2h-0.6ZM180.2,331.6h0.6V346.2h-0.6ZM180.8,334.2h0.6V346.2h-0.6ZM181.4,338.2h0.6V346.2h-0.6ZM182.0,342.6h0.6V346.2h-0.6ZM182.0,346.2h0.6V346.9h-0.6ZM182.6,341.5h0.6V346.2h-0.6ZM182.6,346.2h0.6V347.7h-0.6ZM183.2,342.8h0.6V346.2h-0.6ZM183.2,346.2h0.6V347.8h-0.6ZM183.8,340.9h0.6V346.2h-0.6ZM183.8,346.2h0.6V347.2h-0.6ZM184.4,341.0h0.6V346.2h-0.6ZM184.4,346.2h0.6V346.6h-0.6ZM185.0,340.1h0.6V346.2h-0.6ZM185.6,335.3h0.6V346.2h-0.6ZM186.2,332.3h0.6V346.2h-0.6ZM186.8,328.1h0.6V346.2h-0.6ZM187.4,331.9h0.6V346.2h-0.6ZM188.0,320.1h0.6V346.2h-0.6ZM188.6,315.6h0.6V346.2h-0.6ZM189.2,311.1h0.6V346.2h-0.6ZM189.8,307.8h0.6V346.2h-0.6ZM190.4,306.4h0.6V346.2h-0.6ZM191.0,324.7h0.6V346.2h-0.6ZM191.6,323.2h0.6V346.2h-0.6ZM192.2,329.1h0.6V346.2h-0.6ZM192.8,319.7h0.6V346.2h-0.6ZM193.4,316.2h0.6V346.2h-0.6ZM194.0,325.0h0.6V346.2h-0.6ZM194.6,313.2h0.6V346.2h-0.6ZM195.2,311.7h0.6V346.2h-0.6ZM195.8,311.3h0.6V346.2h-0.6ZM196.4,320.6h0.6V346.2h-0.6ZM197.0,320.3h0.6V346.2h-0.6ZM197.6,329.0h0.6V346.2h-0.6ZM198.2,322.7h0.6V346.2h-0.6ZM198.8,319.1h0.6V346.2h-0.6ZM199.4,316.2h0.6V346.2h-0.6ZM200.0,324.4h0.6V346.2h-0.6ZM200.6,326.2h0.6V346.2h-0.6ZM201.2,334.4h0.6V346.2h-0.6ZM201.2,346.2h0.6V348.7h-0.6ZM201.8,339.0h0.6V346.2h-0.6ZM201.8,346.2h0.6V352.3h-0.6ZM202.4,341.0h0.6V346.2h-0.6ZM202.4,346.2h0.6V366.3h-0.6ZM203.0,343.0h0.6V346.2h-0.6ZM203.0,346.2h0.6V384.7h-0.6ZM203.6,345.1h0.6V346.2h-0.6ZM203.6,346.2h0.6V411.2h-0.6ZM204.2,345.7h0.6V346.2h-0.6ZM204.2,346.2h0.6V423.9h-0.6ZM204.8,345.8h0.6V346.2h-0.6ZM204.8,346.2h0.6V395.7h-0.6ZM205.4,345.8h0.6V346.2h-0.6ZM205.4,346.2h0.6V375.9h-0.6ZM206.0,345.9h0.6V346.2h-0.6ZM206.0,346.2h0.6V365.9h-0.6ZM206.6,346.2h0.6V362.2h-0.6ZM207.2,346.2h0.6V365.7h-0.6ZM207.8,346.2h0.6V366.6h-0.6ZM208.4,346.2h0.6V363.0h-0.6ZM209.0,346.2h0.6V356.0h-0.6ZM209.6,341.5h0.6V346.2h-0.6ZM209.6,346.2h0.6V353.6h-0.6ZM210.2,336.9h0.6V346.2h-0.6ZM210.2,346.2h0.6V353.0h-0.6ZM210.8,337.9h0.6V346.2h-0.6ZM210.8,346.2h0.6V354.2h-0.6ZM211.4,343.5h0.6V346.2h-0.6ZM211.4,346.2h0.6V354.4h-0.6ZM212.0,346.2h0.6V354.3h-0.6ZM212.6,346.2h0.6V363.8h-0.6ZM213.2,346.2h0.6V368.4h-0.6ZM213.8,346.2h0.6V376.4h-0.6ZM214.4,346.2h0.6V373.3h-0.6ZM215.0,346.2h0.6V371.8h-0.6ZM215.6,346.2h0.6V362.1h-0.6ZM216.2,346.2h0.6V365.8h-0.6ZM216.8,346.2h0.6V359.6h-0.6ZM217.4,346.2h0.6V363.1h-0.6ZM218.0,346.2h0.6V360.7h-0.6ZM218.6,346.2h0.6V362.4h-0.6ZM219.2,346.2h0.6V368.5h-0.6ZM219.8,346.2h0.6V367.4h-0.6ZM220.4,346.2h0.6V365.7h-0.6ZM221.0,346.2h0.6V377.5h-0.6ZM221.6,346.2h0.6V379.1h-0.6ZM222.2,346.2h0.6V367.7h-0.6ZM222.8,346.2h0.6V370.8h-0.6ZM223.4,346.2h0.6V386.7h-0.6ZM224.0,346.2h0.6V454.5h-0.6ZM224.6,346.2h0.6V491.6h-0.6ZM225.2,346.2h0.6V531.6h-0.6ZM225.8,346.2h0.6V455.9h-0.6ZM226.4,346.2h0.6V465.4h-0.6ZM227.0,346.2h0.6V406.0h-0.6ZM227.6,346.2h0.6V408.8h-0.6ZM228.2,344.4h0.6V346.2h-0.6ZM228.2,346.2h0.6V386.8h-0.6ZM228.8,340.8h0.6V346.2h-0.6ZM228.8,346.2h0.6V367.8h-0.6ZM229.4,339.8h0.6V346.2h-0.6ZM229.4,346.2h0.6V364.1h-0.6ZM230.0,338.9h0.6V346.2h-0.6ZM230.0,346.2h0.6V358.8h-0.6ZM230.6,337.8h0.6V346.2h-0.6ZM230.6,346.2h0.6V353.6h-0.6ZM231.2,340.0h0.6V346.2h-0.6ZM231.2,346.2h0.6V350.0h-0.6ZM231.8,335.7h0.6V346.2h-0.6ZM231.8,346.2h0.6V347.5h-0.6ZM232.4,334.1h0.6V346.2h-0.6ZM232.4,346.2h0.6V348.3h-0.6ZM233.0,332.5h0.6V346.2h-0.6ZM233.0,346.2h0.6V348.7h-0.6ZM233.6,330.9h0.6V346.2h-0.6ZM233.6,346.2h0.6V349.0h-0.6ZM234.2,335.7h0.6V346.2h-0.6ZM234.2,346.2h0.6V348.8h-0.6ZM234.8,327.9h0.6V346.2h-0.6ZM235.4,327.1h0.6V346.2h-0.6ZM235.4,346.2h0.6V348.8h-0.6ZM236.0,326.4h0.6V346.2h-0.6ZM236.0,346.2h0.6V348.7h-0.6ZM236.6,330.2h0.6V346.2h-0.6ZM236.6,346.2h0.6V348.9h-0.6ZM237.2,329.0h0.6V346.2h-0.6ZM237.2,346.2h0.6V348.0h-0.6ZM237.8,339.0h0.6V346.2h-0.6ZM237.8,346.2h0.6V347.7h-0.6ZM238.4,338.6h0.6V346.2h-0.6ZM238.4,346.2h0.6V348.8h-0.6ZM239.0,341.3h0.6V346.2h-0.6ZM239.0,346.2h0.6V348.0h-0.6ZM239.6,343.8h0.6V346.2h-0.6ZM239.6,346.2h0.6V348.4h-0.6ZM240.2,344.4h0.6V346.2h-0.6ZM240.2,346.2h0.6V351.2h-0.6ZM240.8,343.9h0.6V346.2h-0.6ZM240.8,346.2h0.6V351.0h-0.6ZM241.4,343.9h0.6V346.2h-0.6ZM241.4,346.2h0.6V349.6h-0.6ZM242.0,343.5h0.6V346.2h-0.6ZM242.0,346.2h0.6V357.9h-0.6ZM242.6,342.6h0.6V346.2h-0.6ZM242.6,346.2h0.6V358.0h-0.6ZM243.2,344.7h0.6V346.2h-0.6ZM243.2,346.2h0.6V363.7h-0.6ZM243.8,343.5h0.6V346.2h-0.6ZM243.8,346.2h0.6V379.1h-0.6ZM244.4,342.8h0.6V346.2h-0.6ZM244.4,346.2h0.6V374.1h-0.6ZM245.0,342.7h0.6V346.2h-0.6ZM245.0,346.2h0.6V366.1h-0.6ZM245.6,344.1h0.6V346.2h-0.6ZM245.6,346.2h0.6V356.1h-0.6ZM246.2,343.6h0.6V346.2h-0.6ZM246.2,346.2h0.6V354.6h-0.6ZM246.8,344.1h0.6V346.2h-0.6ZM246.8,346.2h0.6V350.6h-0.6ZM247.4,340.2h0.6V346.2h-0.6ZM247.4,346.2h0.6V349.5h-0.6ZM248.0,339.8h0.6V346.2h-0.6ZM248.0,346.2h0.6V349.6h-0.6ZM248.6,342.9h0.6V346.2h-0.6ZM248.6,346.2h0.6V350.3h-0.6ZM249.2,343.4h0.6V346.2h-0.6ZM249.2,346.2h0.6V351.1h-0.6ZM249.8,343.2h0.6V346.2h-0.6ZM249.8,346.2h0.6V370.8h-0.6ZM250.4,343.9h0.6V346.2h-0.6ZM250.4,346.2h0.6V374.3h-0.6ZM251.0,343.8h0.6V346.2h-0.6ZM251.0,346.2h0.6V417.1h-0.6ZM251.6,344.3h0.6V346.2h-0.6ZM251.6,346.2h0.6V426.7h-0.6ZM252.2,343.6h0.6V346.2h-0.6ZM252.2,346.2h0.6V391.9h-0.6ZM252.8,338.7h0.6V346.2h-0.6ZM252.8,346.2h0.6V384.9h-0.6ZM253.4,327.9h0.6V346.2h-0.6ZM253.4,346.2h0.6V361.0h-0.6ZM254.0,325.2h0.6V346.2h-0.6ZM254.0,346.2h0.6V350.1h-0.6ZM254.6,327.9h0.6V346.2h-0.6ZM254.6,346.2h0.6V349.4h-0.6ZM255.2,329.7h0.6V346.2h-0.6ZM255.2,346.2h0.6V349.2h-0.6ZM255.8,319.2h0.6V346.2h-0.6ZM255.8,346.2h0.6V348.0h-0.6ZM256.4,325.5h0.6V346.2h-0.6ZM256.4,346.2h0.6V351.3h-0.6ZM257.0,334.7h0.6V346.2h-0.6ZM257.0,346.2h0.6V354.6h-0.6ZM257.6,343.2h0.6V346.2h-0.6ZM257.6,346.2h0.6V357.6h-0.6ZM258.2,342.5h0.6V346.2h-0.6ZM258.2,346.2h0.6V357.6h-0.6ZM258.8,344.3h0.6V346.2h-0.6ZM258.8,346.2h0.6V362.5h-0.6ZM259.4,342.8h0.6V346.2h-0.6ZM259.4,346.2h0.6V407.5h-0.6ZM260.0,342.8h0.6V346.2h-0.6ZM260.0,346.2h0.6V452.5h-0.6ZM260.6,343.8h0.6V346.2h-0.6ZM260.6,346.2h0.6V488.2h-0.6ZM261.2,343.0h0.6V346.2h-0.6ZM261.2,346.2h0.6V474.9h-0.6ZM261.8,343.5h0.6V346.2h-0.6ZM261.8,346.2h0.6V384.8h-0.6ZM262.4,341.3h0.6V346.2h-0.6ZM262.4,346.2h0.6V365.6h-0.6ZM263.0,327.8h0.6V346.2h-0.6ZM263.0,346.2h0.6V358.6h-0.6ZM263.6,319.8h0.6V346.2h-0.6ZM263.6,346.2h0.6V351.6h-0.6ZM264.2,319.2h0.6V346.2h-0.6ZM264.2,346.2h0.6V347.7h-0.6ZM264.8,330.3h0.6V346.2h-0.6ZM264.8,346.2h0.6V347.3h-0.6ZM265.4,328.0h0.6V346.2h-0.6ZM265.4,346.2h0.6V346.6h-0.6ZM266.0,322.3h0.6V346.2h-0.6ZM266.6,317.6h0.6V346.2h-0.6ZM267.2,314.1h0.6V346.2h-0.6ZM267.8,325.7h0.6V346.2h-0.6ZM267.8,346.2h0.6V348.7h-0.6ZM268.4,311.3h0.6V346.2h-0.6ZM268.4,346.2h0.6V353.2h-0.6ZM269.0,316.6h0.6V346.2h-0.6ZM269.0,346.2h0.6V356.8h-0.6ZM269.6,328.0h0.6V346.2h-0.6ZM269.6,346.2h0.6V355.8h-0.6ZM270.2,332.8h0.6V346.2h-0.6ZM270.2,346.2h0.6V351.2h-0.6ZM270.8,316.6h0.6V346.2h-0.6ZM270.8,346.2h0.6V346.5h-0.6ZM271.4,309.6h0.6V346.2h-0.6ZM272.0,308.4h0.6V346.2h-0.6ZM272.6,300.0h0.6V346.2h-0.6ZM273.2,294.9h0.6V346.2h-0.6ZM273.8,288.9h0.6V346.2h-0.6ZM274.4,300.2h0.6V346.2h-0.6ZM275.0,295.8h0.6V346.2h-0.6ZM275.6,271.0h0.6V346.2h-0.6ZM276.2,285.0h0.6V346.2h-0.6ZM276.8,292.6h0.6V346.2h-0.6ZM277.4,314.0h0.6V346.2h-0.6ZM278.0,321.5h0.6V346.2h-0.6ZM278.6,323.0h0.6V346.2h-0.6ZM279.2,302.4h0.6V346.2h-0.6ZM279.8,305.1h0.6V346.2h-0.6ZM280.4,311.2h0.6V346.2h-0.6ZM281.0,279.2h0.6V346.2h-0.6ZM281.6,269.8h0.6V346.2h-0.6ZM282.2,221.8h0.6V346.2h-0.6ZM282.8,273.1h0.6V346.2h-0.6ZM283.4,286.0h0.6V346.2h-0.6ZM284.0,288.5h0.6V346.2h-0.6ZM284.6,261.9h0.6V346.2h-0.6ZM285.2,251.3h0.6V346.2h-0.6ZM285.8,271.4h0.6V346.2h-0.6ZM286.4,304.8h0.6V346.2h-0.6ZM287.0,323.8h0.6V346.2h-0.6ZM287.6,320.6h0.6V346.2h-0.6ZM288.2,317.3h0.6V346.2h-0.6ZM288.2,346.2h0.6V346.9h-0.6ZM288.8,314.2h0.6V346.2h-0.6ZM288.8,346.2h0.6V347.7h-0.6ZM289.4,315.3h0.6V346.2h-0.6ZM289.4,346.2h0.6V350.8h-0.6ZM290.0,339.4h0.6V346.2h-0.6ZM290.0,346.2h0.6V354.4h-0.6ZM290.6,342.2h0.6V346.2h-0.6ZM290.6,346.2h0.6V356.8h-0.6ZM291.2,343.6h0.6V346.2h-0.6ZM291.2,346.2h0.6V355.2h-0.6ZM291.8,342.1h0.6V346.2h-0.6ZM291.8,346.2h0.6V350.7h-0.6ZM292.4,342.7h0.6V346.2h-0.6ZM293.0,336.2h0.6V346.2h-0.6ZM293.6,326.0h0.6V346.2h-0.6ZM294.2,313.4h0.6V346.2h-0.6ZM294.8,303.7h0.6V346.2h-0.6ZM295.4,300.1h0.6V346.2h-0.6ZM296.0,296.5h0.6V346.2h-0.6ZM296.6,292.9h0.6V346.2h-0.6ZM297.2,288.1h0.6V346.2h-0.6ZM297.8,283.7h0.6V346.2h-0.6ZM298.4,299.0h0.6V346.2h-0.6ZM299.0,276.9h0.6V346.2h-0.6ZM299.6,303.0h0.6V346.2h-0.6ZM300.2,310.9h0.6V346.2h-0.6ZM300.8,322.2h0.6V346.2h-0.6ZM301.4,322.9h0.6V346.2h-0.6ZM302.0,296.4h0.6V346.2h-0.6ZM302.6,314.7h0.6V346.2h-0.6ZM303.2,298.1h0.6V346.2h-0.6ZM303.8,290.9h0.6V346.2h-0.6ZM304.4,289.0h0.6V346.2h-0.6ZM305.0,285.7h0.6V346.2h-0.6ZM305.6,280.9h0.6V346.2h-0.6ZM306.2,270.4h0.6V346.2h-0.6ZM306.8,259.9h0.6V346.2h-0.6ZM307.4,249.4h0.6V346.2h-0.6ZM308.0,248.4h0.6V346.2h-0.6ZM308.6,277.5h0.6V346.2h-0.6ZM309.2,263.3h0.6V346.2h-0.6ZM309.8,274.6h0.6V346.2h-0.6ZM310.4,242.5h0.6V346.2h-0.6ZM311.0,266.0h0.6V346.2h-0.6ZM311.6,261.4h0.6V346.2h-0.6ZM312.2,251.4h0.6V346.2h-0.6ZM312.8,238.2h0.6V346.2h-0.6ZM313.4,234.6h0.6V346.2h-0.6ZM314.0,251.4h0.6V346.2h-0.6ZM314.6,288.1h0.6V346.2h-0.6ZM315.2,301.1h0.6V346.2h-0.6ZM315.8,284.9h0.6V346.2h-0.6ZM316.4,292.0h0.6V346.2h-0.6ZM317.0,293.2h0.6V346.2h-0.6ZM317.6,277.3h0.6V346.2h-0.6ZM318.2,255.1h0.6V346.2h-0.6ZM318.8,251.6h0.6V346.2h-0.6ZM319.4,250.9h0.6V346.2h-0.6ZM320.0,289.3h0.6V346.2h-0.6ZM320.0,346.2h0.6V346.5h-0.6ZM320.6,298.2h0.6V346.2h-0.6ZM320.6,346.2h0.6V347.5h-0.6ZM321.2,326.2h0.6V346.2h-0.6ZM321.2,346.2h0.6V348.4h-0.6ZM321.8,342.8h0.6V346.2h-0.6ZM321.8,346.2h0.6V348.3h-0.6ZM322.4,339.4h0.6V346.2h-0.6ZM322.4,346.2h0.6V347.4h-0.6ZM323.0,318.2h0.6V346.2h-0.6ZM323.6,311.3h0.6V346.2h-0.6ZM324.2,318.5h0.6V346.2h-0.6ZM324.8,332.9h0.6V346.2h-0.6ZM325.4,339.7h0.6V346.2h-0.6ZM326.6,342.5h0.6V346.2h-0.6ZM327.2,342.2h0.6V346.2h-0.6ZM327.8,323.0h0.6V346.2h-0.6ZM328.4,312.3h0.6V346.2h-0.6ZM329.0,319.5h0.6V346.2h-0.6ZM329.6,319.6h0.6V346.2h-0.6ZM330.2,324.2h0.6V346.2h-0.6ZM330.8,334.6h0.6V346.2h-0.6ZM331.4,341.3h0.6V346.2h-0.6ZM331.4,346.2h0.6V346.8h-0.6ZM332.0,340.4h0.6V346.2h-0.6ZM332.0,346.2h0.6V348.1h-0.6ZM332.6,342.4h0.6V346.2h-0.6ZM332.6,346.2h0.6V350.7h-0.6ZM333.2,340.4h0.6V346.2h-0.6ZM333.2,346.2h0.6V350.8h-0.6ZM333.8,341.4h0.6V346.2h-0.6ZM333.8,346.2h0.6V351.0h-0.6ZM334.4,341.6h0.6V346.2h-0.6ZM334.4,346.2h0.6V357.3h-0.6ZM335.0,342.6h0.6V346.2h-0.6ZM335.0,346.2h0.6V356.4h-0.6ZM335.6,342.8h0.6V346.2h-0.6ZM335.6,346.2h0.6V359.8h-0.6ZM336.2,341.2h0.6V346.2h-0.6ZM336.2,346.2h0.6V361.5h-0.6ZM336.8,341.5h0.6V346.2h-0.6ZM336.8,346.2h0.6V368.0h-0.6ZM337.4,341.6h0.6V346.2h-0.6ZM337.4,346.2h0.6V364.3h-0.6ZM338.0,343.3h0.6V346.2h-0.6ZM338.0,346.2h0.6V360.3h-0.6ZM338.6,340.6h0.6V346.2h-0.6ZM338.6,346.2h0.6V357.0h-0.6ZM339.2,340.7h0.6V346.2h-0.6ZM339.2,346.2h0.6V352.5h-0.6ZM339.8,342.6h0.6V346.2h-0.6ZM339.8,346.2h0.6V349.3h-0.6ZM340.4,342.7h0.6V346.2h-0.6ZM340.4,346.2h0.6V348.2h-0.6ZM341.0,342.1h0.6V346.2h-0.6ZM341.0,346.2h0.6V347.0h-0.6ZM341.6,330.3h0.6V346.2h-0.6ZM342.2,312.3h0.6V346.2h-0.6ZM342.8,329.8h0.6V346.2h-0.6ZM343.4,328.1h0.6V346.2h-0.6ZM344.0,341.6h0.6V346.2h-0.6ZM344.6,340.6h0.6V346.2h-0.6ZM345.2,342.3h0.6V346.2h-0.6ZM345.8,341.7h0.6V346.2h-0.6ZM346.4,331.8h0.6V346.2h-0.6ZM347.0,322.1h0.6V346.2h-0.6ZM347.6,331.3h0.6V346.2h-0.6ZM348.2,330.6h0.6V346.2h-0.6ZM348.8,326.3h0.6V346.2h-0.6ZM349.4,327.2h0.6V346.2h-0.6ZM350.0,329.1h0.6V346.2h-0.6ZM350.6,312.3h0.6V346.2h-0.6ZM351.2,313.8h0.6V346.2h-0.6ZM351.8,317.2h0.6V346.2h-0.6ZM352.4,324.2h0.6V346.2h-0.6ZM353.0,332.6h0.6V346.2h-0.6ZM353.6,337.1h0.6V346.2h-0.6ZM354.2,344.1h0.6V346.2h-0.6ZM354.8,343.1h0.6V346.2h-0.6ZM355.4,341.0h0.6V346.2h-0.6ZM355.4,346.2h0.6V347.2h-0.6ZM356.0,334.1h0.6V346.2h-0.6ZM356.0,346.2h0.6V348.1h-0.6ZM356.6,328.1h0.6V346.2h-0.6ZM356.6,346.2h0.6V347.7h-0.6ZM357.2,308.9h0.6V346.2h-0.6ZM357.2,346.2h0.6V347.9h-0.6ZM357.8,305.3h0.6V346.2h-0.6ZM357.8,346.2h0.6V348.3h-0.6ZM358.4,316.6h0.6V346.2h-0.6ZM358.4,346.2h0.6V348.2h-0.6ZM359.0,298.1h0.6V346.2h-0.6ZM359.0,346.2h0.6V348.2h-0.6ZM359.6,294.5h0.6V346.2h-0.6ZM359.6,346.2h0.6V347.4h-0.6ZM360.2,315.6h0.6V346.2h-0.6ZM360.2,346.2h0.6V348.0h-0.6ZM360.8,307.8h0.6V346.2h-0.6ZM360.8,346.2h0.6V348.0h-0.6ZM361.4,294.2h0.6V346.2h-0.6ZM361.4,346.2h0.6V347.5h-0.6ZM362.0,278.2h0.6V346.2h-0.6ZM362.0,346.2h0.6V347.2h-0.6ZM362.6,264.3h0.6V346.2h-0.6ZM362.6,346.2h0.6V347.1h-0.6ZM363.2,269.3h0.6V346.2h-0.6ZM363.2,346.2h0.6V347.4h-0.6ZM363.8,243.0h0.6V346.2h-0.6ZM363.8,346.2h0.6V347.7h-0.6ZM364.4,286.4h0.6V346.2h-0.6ZM364.4,346.2h0.6V347.6h-0.6ZM365.0,293.6h0.6V346.2h-0.6ZM365.0,346.2h0.6V347.1h-0.6ZM365.6,314.4h0.6V346.2h-0.6ZM365.6,346.2h0.6V347.5h-0.6ZM366.2,320.2h0.6V346.2h-0.6ZM366.2,346.2h0.6V347.4h-0.6ZM366.8,330.8h0.6V346.2h-0.6ZM366.8,346.2h0.6V347.0h-0.6ZM367.4,327.3h0.6V346.2h-0.6ZM367.4,346.2h0.6V347.3h-0.6ZM368.0,327.5h0.6V346.2h-0.6ZM368.0,346.2h0.6V346.8h-0.6ZM368.6,310.3h0.6V346.2h-0.6ZM368.6,346.2h0.6V346.8h-0.6ZM369.2,311.4h0.6V346.2h-0.6ZM369.2,346.2h0.6V346.9h-0.6ZM369.8,322.0h0.6V346.2h-0.6ZM369.8,346.2h0.6V346.7h-0.6ZM370.4,324.2h0.6V346.2h-0.6ZM370.4,346.2h0.6V347.0h-0.6ZM371.0,317.1h0.6V346.2h-0.6ZM371.0,346.2h0.6V347.0h-0.6ZM371.6,307.7h0.6V346.2h-0.6ZM371.6,346.2h0.6V346.9h-0.6ZM372.2,320.1h0.6V346.2h-0.6ZM372.2,346.2h0.6V346.8h-0.6ZM372.8,298.5h0.6V346.2h-0.6ZM372.8,346.2h0.6V346.8h-0.6ZM373.4,305.5h0.6V346.2h-0.6ZM373.4,346.2h0.6V346.5h-0.6ZM374.0,322.8h0.6V346.2h-0.6ZM374.0,346.2h0.6V346.7h-0.6ZM374.6,315.2h0.6V346.2h-0.6ZM374.6,346.2h0.6V346.5h-0.6ZM375.2,269.0h0.6V346.2h-0.6ZM375.2,346.2h0.6V346.5h-0.6ZM375.8,242.8h0.6V346.2h-0.6ZM376.4,220.8h0.6V346.2h-0.6ZM377.0,274.9h0.6V346.2h-0.6ZM377.6,271.8h0.6V346.2h-0.6ZM378.2,322.5h0.6V346.2h-0.6ZM378.8,337.3h0.6V346.2h-0.6ZM378.8,346.2h0.6V347.6h-0.6ZM379.4,341.3h0.6V346.2h-0.6ZM379.4,346.2h0.6V348.6h-0.6ZM380.0,342.5h0.6V346.2h-0.6ZM380.0,346.2h0.6V351.9h-0.6ZM380.6,343.8h0.6V346.2h-0.6ZM380.6,346.2h0.6V355.7h-0.6ZM381.2,340.5h0.6V346.2h-0.6ZM381.2,346.2h0.6V351.6h-0.6ZM381.8,334.0h0.6V346.2h-0.6ZM381.8,346.2h0.6V350.5h-0.6ZM382.4,335.6h0.6V346.2h-0.6ZM382.4,346.2h0.6V351.0h-0.6ZM383.0,322.7h0.6V346.2h-0.6ZM383.0,346.2h0.6V350.0h-0.6ZM383.6,323.1h0.6V346.2h-0.6ZM383.6,346.2h0.6V349.1h-0.6ZM384.2,330.8h0.6V346.2h-0.6ZM384.2,346.2h0.6V350.2h-0.6ZM384.8,338.6h0.6V346.2h-0.6ZM384.8,346.2h0.6V351.7h-0.6ZM385.4,342.0h0.6V346.2h-0.6ZM385.4,346.2h0.6V351.0h-0.6ZM386.0,341.4h0.6V346.2h-0.6ZM386.0,346.2h0.6V350.7h-0.6ZM386.6,342.9h0.6V346.2h-0.6ZM386.6,346.2h0.6V352.8h-0.6ZM387.2,341.0h0.6V346.2h-0.6ZM387.2,346.2h0.6V358.2h-0.6ZM387.8,341.0h0.6V346.2h-0.6ZM387.8,346.2h0.6V359.5h-0.6ZM388.4,341.1h0.6V346.2h-0.6ZM388.4,346.2h0.6V361.3h-0.6ZM389.0,339.7h0.6V346.2h-0.6ZM389.0,346.2h0.6V358.1h-0.6ZM389.6,341.1h0.6V346.2h-0.6ZM389.6,346.2h0.6V351.5h-0.6ZM390.2,337.5h0.6V346.2h-0.6ZM390.2,346.2h0.6V351.4h-0.6ZM390.8,337.7h0.6V346.2h-0.6ZM390.8,346.2h0.6V351.6h-0.6ZM391.4,335.7h0.6V346.2h-0.6ZM391.4,346.2h0.6V350.3h-0.6ZM392.0,337.9h0.6V346.2h-0.6ZM392.0,346.2h0.6V351.6h-0.6ZM392.6,333.4h0.6V346.2h-0.6ZM392.6,346.2h0.6V352.2h-0.6ZM393.2,332.4h0.6V346.2h-0.6ZM393.2,346.2h0.6V352.1h-0.6ZM393.8,331.3h0.6V346.2h-0.6ZM393.8,346.2h0.6V354.9h-0.6ZM394.4,330.3h0.6V346.2h-0.6ZM394.4,346.2h0.6V356.1h-0.6ZM395.0,329.3h0.6V346.2h-0.6ZM395.0,346.2h0.6V355.2h-0.6ZM395.6,328.3h0.6V346.2h-0.6ZM395.6,346.2h0.6V362.4h-0.6ZM396.2,326.7h0.6V346.2h-0.6ZM396.2,346.2h0.6V357.0h-0.6ZM396.8,328.7h0.6V346.2h-0.6ZM396.8,346.2h0.6V350.0h-0.6ZM397.4,332.2h0.6V346.2h-0.6ZM397.4,346.2h0.6V346.8h-0.6ZM398.0,316.5h0.6V346.2h-0.6ZM398.6,298.1h0.6V346.2h-0.6ZM399.2,294.2h0.6V346.2h-0.6ZM399.8,266.8h0.6V346.2h-0.6ZM400.4,292.0h0.6V346.2h-0.6ZM401.0,297.5h0.6V346.2h-0.6ZM401.6,321.1h0.6V346.2h-0.6ZM402.2,332.4h0.6V346.2h-0.6ZM402.8,325.8h0.6V346.2h-0.6ZM403.4,329.0h0.6V346.2h-0.6ZM404.0,323.6h0.6V346.2h-0.6ZM404.6,319.2h0.6V346.2h-0.6ZM405.2,330.6h0.6V346.2h-0.6ZM405.8,325.6h0.6V346.2h-0.6ZM406.4,335.5h0.6V346.2h-0.6ZM407.0,333.9h0.6V346.2h-0.6ZM407.6,329.5h0.6V346.2h-0.6ZM408.2,328.8h0.6V346.2h-0.6ZM408.8,324.6h0.6V346.2h-0.6ZM409.4,329.7h0.6V346.2h-0.6ZM410.0,330.7h0.6V346.2h-0.6ZM410.6,320.3h0.6V346.2h-0.6ZM411.2,324.1h0.6V346.2h-0.6ZM411.2,346.2h0.6V347.7h-0.6ZM411.8,337.2h0.6V346.2h-0.6ZM411.8,346.2h0.6V349.7h-0.6ZM412.4,340.3h0.6V346.2h-0.6ZM412.4,346.2h0.6V351.6h-0.6ZM413.0,346.2h0.6V353.5h-0.6ZM413.6,346.2h0.6V354.3h-0.6ZM414.2,346.2h0.6V352.3h-0.6ZM414.8,346.2h0.6V355.9h-0.6ZM415.4,346.2h0.6V353.3h-0.6ZM416.0,346.2h0.6V353.9h-0.6ZM416.6,346.2h0.6V353.3h-0.6ZM417.2,346.2h0.6V360.5h-0.6ZM417.8,346.2h0.6V362.3h-0.6ZM418.4,346.2h0.6V362.1h-0.6ZM419.0,346.2h0.6V367.3h-0.6ZM419.6,346.2h0.6V370.7h-0.6ZM420.2,346.2h0.6V367.0h-0.6ZM420.8,346.2h0.6V375.8h-0.6ZM421.4,346.2h0.6V364.5h-0.6ZM422.0,346.2h0.6V362.4h-0.6ZM422.6,346.2h0.6V362.3h-0.6ZM423.2,346.2h0.6V361.7h-0.6ZM423.8,346.2h0.6V358.3h-0.6ZM424.4,346.2h0.6V361.8h-0.6ZM425.0,346.2h0.6V358.4h-0.6ZM425.6,346.2h0.6V368.9h-0.6ZM426.2,346.2h0.6V372.5h-0.6ZM426.8,346.2h0.6V370.2h-0.6ZM427.4,346.2h0.6V358.6h-0.6ZM428.0,346.2h0.6V355.0h-0.6ZM428.6,346.2h0.6V361.1h-0.6ZM429.2,346.2h0.6V358.1h-0.6ZM429.8,346.2h0.6V365.4h-0.6ZM430.4,346.2h0.6V364.8h-0.6ZM431.0,346.2h0.6V387.7h-0.6ZM431.6,346.2h0.6V418.2h-0.6ZM432.2,346.2h0.6V471.6h-0.6ZM432.8,346.2h0.6V493.3h-0.6ZM433.4,346.2h0.6V426.2h-0.6ZM434.0,346.2h0.6V394.5h-0.6ZM434.6,346.2h0.6V387.7h-0.6ZM435.2,346.2h0.6V380.6h-0.6ZM435.8,346.2h0.6V368.4h-0.6ZM436.4,346.2h0.6V391.5h-0.6ZM437.0,346.2h0.6V404.3h-0.6ZM437.6,346.2h0.6V407.1h-0.6ZM438.2,346.2h0.6V398.0h-0.6ZM438.8,346.2h0.6V386.0h-0.6ZM439.4,346.2h0.6V370.0h-0.6ZM440.0,346.2h0.6V361.2h-0.6ZM440.6,346.2h0.6V364.1h-0.6ZM441.2,346.2h0.6V361.0h-0.6ZM441.8,346.2h0.6V361.9h-0.6ZM442.4,346.2h0.6V358.8h-0.6ZM443.0,346.2h0.6V363.4h-0.6ZM443.6,346.2h0.6V365.5h-0.6ZM444.2,346.2h0.6V367.6h-0.6ZM444.8,346.2h0.6V372.4h-0.6ZM445.4,346.2h0.6V377.8h-0.6ZM446.0,346.2h0.6V378.0h-0.6ZM446.6,346.2h0.6V366.7h-0.6ZM447.2,346.2h0.6V367.8h-0.6ZM447.8,346.2h0.6V362.5h-0.6ZM448.4,346.2h0.6V359.8h-0.6ZM449.0,346.2h0.6V357.5h-0.6ZM449.6,346.2h0.6V359.8h-0.6ZM450.2,346.2h0.6V360.4h-0.6ZM450.8,346.2h0.6V360.7h-0.6ZM451.4,346.2h0.6V361.1h-0.6ZM452.0,346.2h0.6V355.1h-0.6ZM452.6,346.2h0.6V358.3h-0.6ZM453.2,346.2h0.6V362.3h-0.6ZM453.8,346.2h0.6V367.8h-0.6ZM454.4,346.2h0.6V373.8h-0.6ZM455.0,346.2h0.6V374.3h-0.6ZM455.6,346.2h0.6V386.7h-0.6ZM456.2,346.2h0.6V397.8h-0.6ZM456.8,346.2h0.6V387.5h-0.6ZM457.4,346.2h0.6V413.9h-0.6ZM458.0,346.2h0.6V378.3h-0.6ZM458.6,346.2h0.6V380.1h-0.6ZM459.2,346.2h0.6V367.3h-0.6ZM459.8,346.2h0.6V368.5h-0.6ZM460.4,346.2h0.6V357.1h-0.6ZM461.0,346.2h0.6V357.8h-0.6ZM461.6,346.2h0.6V362.7h-0.6ZM462.2,346.2h0.6V362.6h-0.6ZM462.8,346.2h0.6V363.1h-0.6ZM463.4,346.2h0.6V384.5h-0.6ZM464.0,346.2h0.6V400.5h-0.6ZM464.6,346.2h0.6V422.1h-0.6ZM465.2,346.2h0.6V438.5h-0.6ZM465.8,346.2h0.6V427.2h-0.6ZM466.4,346.2h0.6V389.9h-0.6ZM467.0,346.2h0.6V368.2h-0.6ZM467.6,346.2h0.6V372.0h-0.6ZM468.2,346.2h0.6V369.0h-0.6ZM468.8,346.2h0.6V362.0h-0.6ZM469.4,346.2h0.6V361.9h-0.6ZM470.0,346.2h0.6V362.1h-0.6ZM470.6,346.2h0.6V361.8h-0.6ZM471.2,346.2h0.6V354.7h-0.6ZM471.8,346.2h0.6V358.5h-0.6ZM472.4,344.7h0.6V346.2h-0.6ZM472.4,346.2h0.6V360.4h-0.6ZM473.0,340.3h0.6V346.2h-0.6ZM473.0,346.2h0.6V358.8h-0.6ZM473.6,337.0h0.6V346.2h-0.6ZM473.6,346.2h0.6V360.5h-0.6ZM474.2,341.0h0.6V346.2h-0.6ZM474.2,346.2h0.6V361.7h-0.6ZM474.8,342.2h0.6V346.2h-0.6ZM474.8,346.2h0.6V362.9h-0.6ZM475.4,342.5h0.6V346.2h-0.6ZM475.4,346.2h0.6V363.6h-0.6ZM476.0,344.9h0.6V346.2h-0.6ZM476.0,346.2h0.6V359.1h-0.6ZM476.6,346.2h0.6V366.5h-0.6ZM477.2,346.2h0.6V371.0h-0.6ZM477.8,346.2h0.6V375.2h-0.6ZM478.4,346.2h0.6V382.4h-0.6ZM479.0,346.2h0.6V388.1h-0.6ZM479.6,346.2h0.6V372.3h-0.6ZM480.2,346.2h0.6V384.0h-0.6ZM480.8,346.2h0.6V381.6h-0.6ZM481.4,346.2h0.6V379.1h-0.6ZM482.0,346.2h0.6V376.7h-0.6ZM482.6,346.2h0.6V364.8h-0.6ZM483.2,346.2h0.6V371.6h-0.6ZM483.8,346.2h0.6V374.0h-0.6ZM484.4,346.2h0.6V372.6h-0.6ZM485.0,346.2h0.6V366.3h-0.6ZM485.6,346.2h0.6V361.9h-0.6ZM486.2,346.2h0.6V368.8h-0.6ZM486.8,346.2h0.6V371.2h-0.6ZM487.4,346.2h0.6V371.3h-0.6ZM488.0,346.2h0.6V368.8h-0.6ZM488.6,346.2h0.6V366.1h-0.6ZM489.2,346.2h0.6V356.4h-0.6ZM489.8,346.2h0.6V363.5h-0.6ZM490.4,346.2h0.6V358.7h-0.6ZM491.0,346.2h0.6V366.9h-0.6ZM491.6,339.5h0.6V346.2h-0.6ZM491.6,346.2h0.6V358.3h-0.6ZM492.2,332.8h0.6V346.2h-0.6ZM492.2,346.2h0.6V360.5h-0.6ZM492.8,319.9h0.6V346.2h-0.6ZM492.8,346.2h0.6V355.4h-0.6ZM493.4,310.1h0.6V346.2h-0.6ZM493.4,346.2h0.6V352.2h-0.6ZM494.0,307.3h0.6V346.2h-0.6ZM494.0,346.2h0.6V349.1h-0.6ZM494.6,323.4h0.6V346.2h-0.6ZM494.6,346.2h0.6V348.4h-0.6ZM495.2,318.1h0.6V346.2h-0.6ZM495.8,324.5h0.6V346.2h-0.6ZM496.4,330.7h0.6V346.2h-0.6ZM497.0,336.7h0.6V346.2h-0.6ZM497.6,342.8h0.6V346.2h-0.6ZM498.2,335.0h0.6V346.2h-0.6ZM498.8,329.8h0.6V346.2h-0.6ZM499.4,324.6h0.6V346.2h-0.6ZM500.0,319.4h0.6V346.2h-0.6ZM500.6,314.2h0.6V346.2h-0.6ZM501.2,309.2h0.6V346.2h-0.6ZM501.8,321.9h0.6V346.2h-0.6ZM502.4,302.2h0.6V346.2h-0.6ZM503.0,297.7h0.6V346.2h-0.6ZM503.6,319.6h0.6V346.2h-0.6ZM504.2,318.1h0.6V346.2h-0.6ZM504.8,332.5h0.6V346.2h-0.6ZM505.4,323.3h0.6V346.2h-0.6ZM506.0,326.5h0.6V346.2h-0.6ZM506.6,313.7h0.6V346.2h-0.6ZM507.2,313.2h0.6V346.2h-0.6ZM507.2,346.2h0.6V347.2h-0.6ZM507.8,329.5h0.6V346.2h-0.6ZM507.8,346.2h0.6V352.7h-0.6ZM508.4,328.9h0.6V346.2h-0.6ZM508.4,346.2h0.6V357.0h-0.6ZM509.0,337.2h0.6V346.2h-0.6ZM509.0,346.2h0.6V361.1h-0.6ZM509.6,342.5h0.6V346.2h-0.6ZM509.6,346.2h0.6V363.6h-0.6ZM510.2,340.5h0.6V346.2h-0.6ZM510.2,346.2h0.6V366.1h-0.6ZM510.8,337.8h0.6V346.2h-0.6ZM510.8,346.2h0.6V368.6h-0.6ZM511.4,338.7h0.6V346.2h-0.6ZM511.4,346.2h0.6V371.1h-0.6ZM512.0,328.8h0.6V346.2h-0.6ZM512.0,346.2h0.6V371.3h-0.6ZM512.6,331.2h0.6V346.2h-0.6ZM512.6,346.2h0.6V360.4h-0.6ZM513.2,316.8h0.6V346.2h-0.6ZM513.2,346.2h0.6V358.2h-0.6ZM513.8,310.8h0.6V346.2h-0.6ZM513.8,346.2h0.6V352.7h-0.6ZM514.4,304.8h0.6V346.2h-0.6ZM514.4,346.2h0.6V348.9h-0.6ZM515.0,303.0h0.6V346.2h-0.6ZM515.0,346.2h0.6V347.9h-0.6ZM515.6,319.0h0.6V346.2h-0.6ZM516.2,303.5h0.6V346.2h-0.6ZM516.8,300.3h0.6V346.2h-0.6ZM517.4,300.1h0.6V346.2h-0.6ZM518.0,310.7h0.6V346.2h-0.6ZM518.6,321.6h0.6V346.2h-0.6ZM519.2,329.0h0.6V346.2h-0.6ZM519.8,326.0h0.6V346.2h-0.6ZM520.4,329.1h0.6V346.2h-0.6ZM521.0,324.1h0.6V346.2h-0.6ZM521.6,317.0h0.6V346.2h-0.6ZM522.2,284.7h0.6V346.2h-0.6ZM522.8,250.0h0.6V346.2h-0.6ZM523.4,234.2h0.6V346.2h-0.6ZM524.0,250.2h0.6V346.2h-0.6ZM524.6,289.1h0.6V346.2h-0.6ZM525.2,308.2h0.6V346.2h-0.6ZM525.8,290.0h0.6V346.2h-0.6ZM526.4,293.6h0.6V346.2h-0.6ZM527.0,278.7h0.6V346.2h-0.6ZM527.6,304.6h0.6V346.2h-0.6ZM528.2,312.9h0.6V346.2h-0.6ZM528.8,313.1h0.6V346.2h-0.6ZM529.4,316.2h0.6V346.2h-0.6ZM530.0,309.9h0.6V346.2h-0.6ZM530.6,303.5h0.6V346.2h-0.6ZM531.2,300.1h0.6V346.2h-0.6ZM531.8,301.3h0.6V346.2h-0.6ZM532.4,304.0h0.6V346.2h-0.6ZM533.0,306.2h0.6V346.2h-0.6ZM533.6,301.9h0.6V346.2h-0.6ZM534.2,291.4h0.6V346.2h-0.6ZM534.8,282.8h0.6V346.2h-0.6ZM535.4,277.5h0.6V346.2h-0.6ZM536.0,302.8h0.6V346.2h-0.6ZM536.6,302.2h0.6V346.2h-0.6ZM537.2,286.6h0.6V346.2h-0.6ZM537.8,299.2h0.6V346.2h-0.6ZM538.4,327.0h0.6V346.2h-0.6ZM539.0,332.8h0.6V346.2h-0.6ZM539.6,325.6h0.6V346.2h-0.6ZM540.2,320.8h0.6V346.2h-0.6ZM540.8,316.0h0.6V346.2h-0.6ZM541.4,311.5h0.6V346.2h-0.6ZM542.0,318.8h0.6V346.2h-0.6ZM542.6,311.6h0.6V346.2h-0.6ZM543.2,312.0h0.6V346.2h-0.6ZM543.8,296.6h0.6V346.2h-0.6ZM544.4,319.7h0.6V346.2h-0.6ZM544.4,346.2h0.6V349.2h-0.6ZM545.0,322.4h0.6V346.2h-0.6ZM545.0,346.2h0.6V351.9h-0.6ZM545.6,342.6h0.6V346.2h-0.6ZM545.6,346.2h0.6V354.5h-0.6ZM546.2,342.2h0.6V346.2h-0.6ZM546.2,346.2h0.6V354.5h-0.6ZM546.8,340.9h0.6V346.2h-0.6ZM546.8,346.2h0.6V356.8h-0.6ZM547.4,341.3h0.6V346.2h-0.6ZM547.4,346.2h0.6V356.8h-0.6ZM548.0,341.1h0.6V346.2h-0.6ZM548.0,346.2h0.6V354.5h-0.6ZM548.6,341.5h0.6V346.2h-0.6ZM548.6,346.2h0.6V351.6h-0.6ZM549.2,343.8h0.6V346.2h-0.6ZM549.2,346.2h0.6V348.3h-0.6ZM549.8,341.5h0.6V346.2h-0.6ZM549.8,346.2h0.6V348.3h-0.6ZM550.4,342.4h0.6V346.2h-0.6ZM550.4,346.2h0.6V347.2h-0.6ZM551.0,340.4h0.6V346.2h-0.6ZM551.0,346.2h0.6V346.6h-0.6ZM551.6,328.5h0.6V346.2h-0.6ZM552.2,317.2h0.6V346.2h-0.6ZM552.8,310.1h0.6V346.2h-0.6ZM553.4,301.3h0.6V346.2h-0.6ZM554.0,320.0h0.6V346.2h-0.6ZM554.6,304.2h0.6V346.2h-0.6ZM555.2,321.7h0.6V346.2h-0.6ZM555.8,305.8h0.6V346.2h-0.6ZM556.4,312.9h0.6V346.2h-0.6ZM557.0,297.4h0.6V346.2h-0.6ZM557.6,293.2h0.6V346.2h-0.6ZM558.2,284.2h0.6V346.2h-0.6ZM558.8,272.7h0.6V346.2h-0.6ZM559.4,264.4h0.6V346.2h-0.6ZM560.0,267.6h0.6V346.2h-0.6ZM560.6,278.6h0.6V346.2h-0.6ZM561.2,289.6h0.6V346.2h-0.6ZM561.8,302.5h0.6V346.2h-0.6ZM562.4,314.8h0.6V346.2h-0.6ZM563.0,316.9h0.6V346.2h-0.6ZM563.6,295.9h0.6V346.2h-0.6ZM564.2,295.4h0.6V346.2h-0.6ZM564.8,316.8h0.6V346.2h-0.6ZM565.4,295.6h0.6V346.2h-0.6ZM566.0,285.1h0.6V346.2h-0.6ZM566.6,288.3h0.6V346.2h-0.6ZM567.2,267.8h0.6V346.2h-0.6ZM567.8,262.1h0.6V346.2h-0.6ZM568.4,270.0h0.6V346.2h-0.6ZM569.0,279.9h0.6V346.2h-0.6ZM569.6,280.5h0.6V346.2h-0.6ZM570.2,271.9h0.6V346.2h-0.6ZM570.8,291.5h0.6V346.2h-0.6ZM571.4,262.1h0.6V346.2h-0.6ZM572.0,282.8h0.6V346.2h-0.6ZM572.6,303.6h0.6V346.2h-0.6ZM573.2,301.1h0.6V346.2h-0.6ZM573.8,281.5h0.6V346.2h-0.6ZM574.4,275.1h0.6V346.2h-0.6ZM575.0,312.5h0.6V346.2h-0.6ZM575.6,304.4h0.6V346.2h-0.6ZM576.2,317.3h0.6V346.2h-0.6ZM576.8,307.7h0.6V346.2h-0.6ZM577.4,299.9h0.6V346.2h-0.6ZM578.0,292.1h0.6V346.2h-0.6ZM578.6,286.0h0.6V346.2h-0.6ZM579.2,281.4h0.6V346.2h-0.6ZM579.8,291.2h0.6V346.2h-0.6ZM580.4,268.0h0.6V346.2h-0.6ZM581.0,268.0h0.6V346.2h-0.6ZM581.6,289.6h0.6V346.2h-0.6ZM582.2,301.7h0.6V346.2h-0.6ZM582.8,284.3h0.6V346.2h-0.6ZM583.4,265.2h0.6V346.2h-0.6ZM584.0,279.1h0.6V346.2h-0.6ZM584.6,249.0h0.6V346.2h-0.6ZM585.2,255.0h0.6V346.2h-0.6ZM585.8,278.0h0.6V346.2h-0.6ZM586.4,301.0h0.6V346.2h-0.6ZM587.0,321.9h0.6V346.2h-0.6ZM587.6,325.4h0.6V346.2h-0.6ZM588.2,326.4h0.6V346.2h-0.6ZM588.8,317.5h0.6V346.2h-0.6ZM589.4,314.7h0.6V346.2h-0.6ZM590.0,302.6h0.6V346.2h-0.6ZM590.6,295.1h0.6V346.2h-0.6ZM591.2,290.2h0.6V346.2h-0.6ZM591.8,282.1h0.6V346.2h-0.6ZM592.4,272.1h0.6V346.2h-0.6ZM593.0,291.5h0.6V346.2h-0.6ZM593.6,277.7h0.6V346.2h-0.6ZM594.2,248.7h0.6V346.2h-0.6ZM594.8,242.1h0.6V346.2h-0.6ZM595.4,238.3h0.6V346.2h-0.6ZM596.0,241.9h0.6V346.2h-0.6ZM596.6,262.9h0.6V346.2h-0.6ZM597.2,262.1h0.6V346.2h-0.6ZM597.8,255.5h0.6V346.2h-0.6ZM598.4,261.7h0.6V346.2h-0.6ZM599.0,239.4h0.6V346.2h-0.6ZM599.6,233.5h0.6V346.2h-0.6ZM600.2,239.5h0.6V346.2h-0.6ZM600.8,260.5h0.6V346.2h-0.6ZM601.4,273.2h0.6V346.2h-0.6ZM602.0,271.7h0.6V346.2h-0.6ZM602.6,287.8h0.6V346.2h-0.6ZM603.2,269.2h0.6V346.2h-0.6ZM603.8,272.2h0.6V346.2h-0.6ZM604.4,281.8h0.6V346.2h-0.6ZM605.0,289.6h0.6V346.2h-0.6ZM605.6,298.3h0.6V346.2h-0.6ZM606.2,324.9h0.6V346.2h-0.6ZM606.8,318.4h0.6V346.2h-0.6ZM607.4,329.1h0.6V346.2h-0.6ZM608.0,340.7h0.6V346.2h-0.6ZM608.6,340.3h0.6V346.2h-0.6ZM609.2,341.6h0.6V346.2h-0.6ZM609.2,346.2h0.6V350.1h-0.6ZM609.8,346.2h0.6V355.7h-0.6ZM610.4,342.4h0.6V346.2h-0.6ZM610.4,346.2h0.6V351.8h-0.6ZM611.0,342.0h0.6V346.2h-0.6ZM611.6,336.9h0.6V346.2h-0.6ZM612.2,314.7h0.6V346.2h-0.6ZM612.8,283.5h0.6V346.2h-0.6ZM613.4,248.8h0.6V346.2h-0.6ZM614.0,233.5h0.6V346.2h-0.6ZM614.6,274.6h0.6V346.2h-0.6ZM615.2,230.0h0.6V346.2h-0.6ZM615.8,238.4h0.6V346.2h-0.6ZM616.4,254.7h0.6V346.2h-0.6ZM617.0,263.8h0.6V346.2h-0.6ZM617.6,243.8h0.6V346.2h-0.6ZM618.2,225.8h0.6V346.2h-0.6ZM618.8,218.1h0.6V346.2h-0.6ZM619.4,247.9h0.6V346.2h-0.6ZM620.0,266.5h0.6V346.2h-0.6ZM620.6,297.4h0.6V346.2h-0.6ZM621.2,314.3h0.6V346.2h-0.6ZM621.8,330.4h0.6V346.2h-0.6ZM622.4,334.9h0.6V346.2h-0.6ZM623.0,317.0h0.6V346.2h-0.6ZM623.6,299.0h0.6V346.2h-0.6ZM624.2,289.7h0.6V346.2h-0.6ZM624.8,274.3h0.6V346.2h-0.6ZM625.4,273.1h0.6V346.2h-0.6ZM626.0,271.9h0.6V346.2h-0.6ZM626.6,289.4h0.6V346.2h-0.6ZM627.2,265.3h0.6V346.2h-0.6ZM627.8,261.5h0.6V346.2h-0.6ZM628.4,250.9h0.6V346.2h-0.6ZM629.0,243.7h0.6V346.2h-0.6ZM629.6,241.8h0.6V346.2h-0.6ZM630.2,244.1h0.6V346.2h-0.6ZM630.8,273.4h0.6V346.2h-0.6ZM631.4,253.1h0.6V346.2h-0.6ZM632.0,240.5h0.6V346.2h-0.6ZM632.6,235.1h0.6V346.2h-0.6ZM633.2,249.2h0.6V346.2h-0.6ZM633.8,248.7h0.6V346.2h-0.6ZM634.4,185.9h0.6V346.2h-0.6ZM635.0,208.5h0.6V346.2h-0.6ZM635.6,278.4h0.6V346.2h-0.6ZM636.2,270.9h0.6V346.2h-0.6ZM636.8,244.3h0.6V346.2h-0.6ZM637.4,235.0h0.6V346.2h-0.6ZM638.0,226.4h0.6V346.2h-0.6ZM638.6,247.1h0.6V346.2h-0.6ZM639.2,289.9h0.6V346.2h-0.6ZM639.8,288.0h0.6V346.2h-0.6ZM640.4,299.3h0.6V346.2h-0.6ZM641.0,314.4h0.6V346.2h-0.6ZM641.6,310.6h0.6V346.2h-0.6ZM642.2,297.4h0.6V346.2h-0.6ZM642.8,296.6h0.6V346.2h-0.6ZM643.4,325.0h0.6V346.2h-0.6ZM643.4,346.2h0.6V346.9h-0.6ZM644.0,323.1h0.6V346.2h-0.6ZM644.0,346.2h0.6V350.2h-0.6ZM644.6,340.0h0.6V346.2h-0.6ZM644.6,346.2h0.6V353.2h-0.6ZM645.2,338.8h0.6V346.2h-0.6ZM645.2,346.2h0.6V355.5h-0.6ZM645.8,342.4h0.6V346.2h-0.6ZM645.8,346.2h0.6V360.1h-0.6ZM646.4,346.2h0.6V365.7h-0.6ZM647.0,346.2h0.6V371.3h-0.6ZM647.6,346.2h0.6V376.5h-0.6ZM648.2,346.2h0.6V365.6h-0.6ZM648.8,346.2h0.6V369.4h-0.6ZM649.4,345.8h0.6V346.2h-0.6ZM649.4,346.2h0.6V363.4h-0.6ZM650.0,336.3h0.6V346.2h-0.6ZM650.0,346.2h0.6V355.4h-0.6ZM650.6,327.3h0.6V346.2h-0.6ZM650.6,346.2h0.6V354.1h-0.6ZM651.2,333.1h0.6V346.2h-0.6ZM651.2,346.2h0.6V353.1h-0.6ZM651.8,322.8h0.6V346.2h-0.6ZM651.8,346.2h0.6V351.9h-0.6ZM652.4,320.6h0.6V346.2h-0.6ZM652.4,346.2h0.6V350.6h-0.6ZM653.0,320.3h0.6V346.2h-0.6ZM653.0,346.2h0.6V354.5h-0.6ZM653.6,328.5h0.6V346.2h-0.6ZM653.6,346.2h0.6V357.6h-0.6ZM654.2,340.4h0.6V346.2h-0.6ZM654.2,346.2h0.6V360.6h-0.6ZM654.8,346.2h0.6V364.4h-0.6ZM655.4,346.2h0.6V363.3h-0.6ZM656.0,346.2h0.6V369.8h-0.6ZM656.6,346.2h0.6V381.5h-0.6ZM657.2,346.2h0.6V386.6h-0.6ZM657.8,346.2h0.6V385.7h-0.6ZM658.4,346.2h0.6V378.6h-0.6ZM659.0,346.2h0.6V367.7h-0.6ZM659.6,346.2h0.6V361.7h-0.6ZM660.2,344.8h0.6V346.2h-0.6ZM660.2,346.2h0.6V354.6h-0.6ZM660.8,338.3h0.6V346.2h-0.6ZM660.8,346.2h0.6V352.3h-0.6ZM661.4,322.7h0.6V346.2h-0.6ZM661.4,346.2h0.6V348.1h-0.6ZM662.0,330.8h0.6V346.2h-0.6ZM662.0,346.2h0.6V350.1h-0.6ZM662.6,331.1h0.6V346.2h-0.6ZM662.6,346.2h0.6V349.1h-0.6ZM663.2,328.0h0.6V346.2h-0.6ZM663.2,346.2h0.6V349.6h-0.6ZM663.8,330.4h0.6V346.2h-0.6ZM663.8,346.2h0.6V351.1h-0.6ZM664.4,330.9h0.6V346.2h-0.6ZM664.4,346.2h0.6V349.3h-0.6ZM665.0,332.0h0.6V346.2h-0.6ZM665.0,346.2h0.6V349.3h-0.6ZM665.6,323.7h0.6V346.2h-0.6ZM665.6,346.2h0.6V349.3h-0.6ZM666.2,319.2h0.6V346.2h-0.6ZM666.2,346.2h0.6V349.3h-0.6ZM666.8,321.9h0.6V346.2h-0.6ZM666.8,346.2h0.6V356.2h-0.6ZM667.4,336.6h0.6V346.2h-0.6ZM667.4,346.2h0.6V363.1h-0.6ZM668.0,341.3h0.6V346.2h-0.6ZM668.0,346.2h0.6V368.2h-0.6ZM668.6,346.2h0.6V375.7h-0.6ZM669.2,346.2h0.6V377.8h-0.6ZM669.8,346.2h0.6V379.9h-0.6ZM670.4,346.2h0.6V382.0h-0.6ZM671.0,346.2h0.6V384.3h-0.6ZM671.6,346.2h0.6V389.9h-0.6ZM672.2,346.2h0.6V382.8h-0.6ZM672.8,346.2h0.6V401.3h-0.6ZM673.4,346.2h0.6V410.3h-0.6ZM674.0,346.2h0.6V419.3h-0.6ZM674.6,346.2h0.6V409.9h-0.6ZM675.2,346.2h0.6V392.1h-0.6ZM675.8,346.2h0.6V373.8h-0.6ZM676.4,346.2h0.6V387.0h-0.6ZM677.0,346.2h0.6V370.0h-0.6ZM677.6,346.2h0.6V373.3h-0.6ZM678.2,344.5h0.6V346.2h-0.6ZM678.2,346.2h0.6V367.6h-0.6ZM678.8,341.3h0.6V346.2h-0.6ZM678.8,346.2h0.6V356.1h-0.6ZM679.4,339.9h0.6V346.2h-0.6ZM679.4,346.2h0.6V358.0h-0.6ZM680.0,337.0h0.6V346.2h-0.6ZM680.0,346.2h0.6V351.5h-0.6ZM680.6,339.0h0.6V346.2h-0.6ZM680.6,346.2h0.6V354.5h-0.6ZM681.2,341.9h0.6V346.2h-0.6ZM681.2,346.2h0.6V354.5h-0.6ZM681.8,344.7h0.6V346.2h-0.6ZM681.8,346.2h0.6V358.9h-0.6ZM682.4,346.2h0.6V367.7h-0.6ZM683.0,346.2h0.6V367.1h-0.6ZM683.6,346.2h0.6V362.3h-0.6ZM684.2,346.2h0.6V357.9h-0.6ZM684.8,346.2h0.6V351.5h-0.6ZM685.4,341.7h0.6V346.2h-0.6ZM685.4,346.2h0.6V350.9h-0.6ZM686.0,337.0h0.6V346.2h-0.6ZM686.0,346.2h0.6V350.8h-0.6ZM686.6,339.3h0.6V346.2h-0.6ZM686.6,346.2h0.6V356.8h-0.6ZM687.2,344.9h0.6V346.2h-0.6ZM687.2,346.2h0.6V364.5h-0.6ZM687.8,346.2h0.6V380.4h-0.6ZM688.4,346.2h0.6V383.9h-0.6ZM689.0,346.2h0.6V386.6h-0.6ZM689.6,346.2h0.6V372.2h-0.6ZM690.2,346.2h0.6V371.3h-0.6ZM690.8,346.2h0.6V374.3h-0.6ZM691.4,346.2h0.6V372.5h-0.6ZM692.0,346.2h0.6V372.9h-0.6ZM692.6,346.2h0.6V364.5h-0.6ZM693.2,346.2h0.6V372.1h-0.6ZM693.8,346.2h0.6V379.6h-0.6ZM694.4,346.2h0.6V386.2h-0.6ZM695.0,346.2h0.6V385.9h-0.6ZM695.6,346.2h0.6V380.9h-0.6ZM696.2,346.2h0.6V405.5h-0.6ZM696.8,346.2h0.6V404.9h-0.6ZM697.4,346.2h0.6V395.6h-0.6ZM698.0,346.2h0.6V391.2h-0.6ZM698.6,346.2h0.6V373.7h-0.6ZM699.2,346.2h0.6V390.2h-0.6ZM699.8,346.2h0.6V384.0h-0.6ZM700.4,346.2h0.6V397.9h-0.6ZM701.0,346.2h0.6V397.0h-0.6ZM701.6,346.2h0.6V395.8h-0.6ZM702.2,346.2h0.6V394.6h-0.6ZM702.8,346.2h0.6V382.0h-0.6ZM703.4,346.2h0.6V405.1h-0.6ZM704.0,346.2h0.6V391.7h-0.6ZM704.6,346.2h0.6V432.7h-0.6ZM705.2,346.2h0.6V424.7h-0.6ZM705.8,346.2h0.6V470.9h-0.6ZM706.4,346.2h0.6V460.1h-0.6ZM707.0,346.2h0.6V440.6h-0.6ZM707.6,346.2h0.6V421.1h-0.6ZM708.2,346.2h0.6V404.6h-0.6ZM708.8,346.2h0.6V385.0h-0.6ZM709.4,346.2h0.6V379.3h-0.6ZM710.0,346.2h0.6V373.0h-0.6ZM710.6,346.2h0.6V390.9h-0.6ZM711.2,346.2h0.6V398.9h-0.6ZM711.8,346.2h0.6V401.9h-0.6ZM712.4,346.2h0.6V410.7h-0.6ZM713.0,346.2h0.6V422.7h-0.6ZM713.6,346.2h0.6V434.7h-0.6ZM714.2,346.2h0.6V446.1h-0.6ZM714.8,346.2h0.6V456.3h-0.6ZM715.4,346.2h0.6V468.4h-0.6ZM716.0,346.2h0.6V481.3h-0.6ZM716.6,346.2h0.6V494.8h-0.6ZM717.2,346.2h0.6V504.9h-0.6ZM717.8,346.2h0.6V497.2h-0.6ZM718.4,346.2h0.6V430.3h-0.6ZM719.0,346.2h0.6V436.4h-0.6ZM719.6,346.2h0.6V417.8h-0.6ZM720.2,346.2h0.6V408.4h-0.6ZM720.8,346.2h0.6V420.6h-0.6ZM721.4,346.2h0.6V398.0h-0.6ZM722.0,346.2h0.6V412.3h-0.6ZM722.6,346.2h0.6V397.5h-0.6ZM723.2,346.2h0.6V400.2h-0.6ZM723.8,346.2h0.6V375.8h-0.6ZM724.4,346.2h0.6V368.0h-0.6ZM725.0,346.2h0.6V361.6h-0.6ZM725.6,344.4h0.6V346.2h-0.6ZM725.6,346.2h0.6V361.8h-0.6ZM726.2,337.4h0.6V346.2h-0.6ZM726.2,346.2h0.6V351.7h-0.6ZM726.8,325.9h0.6V346.2h-0.6ZM726.8,346.2h0.6V349.1h-0.6ZM727.4,320.3h0.6V346.2h-0.6ZM728.0,331.9h0.6V346.2h-0.6ZM728.6,325.2h0.6V346.2h-0.6ZM729.2,323.7h0.6V346.2h-0.6ZM729.8,325.1h0.6V346.2h-0.6ZM730.4,328.7h0.6V346.2h-0.6ZM731.0,319.4h0.6V346.2h-0.6ZM731.6,313.0h0.6V346.2h-0.6ZM732.2,306.5h0.6V346.2h-0.6ZM732.8,300.0h0.6V346.2h-0.6ZM733.4,294.2h0.6V346.2h-0.6ZM734.0,294.6h0.6V346.2h-0.6ZM734.6,296.8h0.6V346.2h-0.6ZM735.2,304.9h0.6V346.2h-0.6ZM735.8,310.6h0.6V346.2h-0.6ZM736.4,296.4h0.6V346.2h-0.6ZM737.0,303.8h0.6V346.2h-0.6ZM737.6,285.9h0.6V346.2h-0.6ZM738.2,286.0h0.6V346.2h-0.6ZM738.8,286.3h0.6V346.2h-0.6ZM739.4,286.6h0.6V346.2h-0.6ZM740.0,286.9h0.6V346.2h-0.6ZM740.6,305.5h0.6V346.2h-0.6ZM741.2,301.8h0.6V346.2h-0.6ZM741.8,298.5h0.6V346.2h-0.6ZM742.4,303.3h0.6V346.2h-0.6ZM743.0,307.9h0.6V346.2h-0.6ZM743.6,326.0h0.6V346.2h-0.6ZM744.2,316.3h0.6V346.2h-0.6ZM744.8,320.5h0.6V346.2h-0.6ZM745.4,325.9h0.6V346.2h-0.6ZM746.0,316.8h0.6V346.2h-0.6ZM746.6,306.1h0.6V346.2h-0.6ZM747.2,294.3h0.6V346.2h-0.6ZM747.8,276.8h0.6V346.2h-0.6ZM748.4,258.5h0.6V346.2h-0.6ZM749.0,261.2h0.6V346.2h-0.6ZM749.6,284.4h0.6V346.2h-0.6ZM750.2,307.5h0.6V346.2h-0.6ZM750.8,323.4h0.6V346.2h-0.6ZM751.4,325.4h0.6V346.2h-0.6ZM752.0,327.4h0.6V346.2h-0.6ZM752.6,332.9h0.6V346.2h-0.6ZM753.2,324.5h0.6V346.2h-0.6ZM753.8,316.8h0.6V346.2h-0.6ZM754.4,298.1h0.6V346.2h-0.6ZM755.0,284.9h0.6V346.2h-0.6ZM755.6,279.9h0.6V346.2h-0.6ZM756.2,289.5h0.6V346.2h-0.6ZM756.8,304.9h0.6V346.2h-0.6ZM757.4,320.3h0.6V346.2h-0.6ZM758.0,328.9h0.6V346.2h-0.6ZM758.0,346.2h0.6V347.2h-0.6ZM758.6,336.3h0.6V346.2h-0.6ZM758.6,346.2h0.6V351.3h-0.6ZM759.2,343.6h0.6V346.2h-0.6ZM759.2,346.2h0.6V352.0h-0.6ZM759.8,346.2h0.6V359.1h-0.6ZM760.4,346.2h0.6V363.1h-0.6ZM761.0,346.2h0.6V363.2h-0.6ZM761.6,346.2h0.6V370.8h-0.6ZM762.2,346.2h0.6V377.7h-0.6ZM762.8,346.2h0.6V379.0h-0.6ZM763.4,346.2h0.6V364.4h-0.6ZM764.0,346.2h0.6V366.5h-0.6ZM764.6,346.2h0.6V353.4h-0.6ZM765.2,339.3h0.6V346.2h-0.6ZM765.2,346.2h0.6V356.7h-0.6ZM765.8,327.4h0.6V346.2h-0.6ZM765.8,346.2h0.6V355.5h-0.6ZM766.4,325.1h0.6V346.2h-0.6ZM766.4,346.2h0.6V354.3h-0.6ZM767.0,333.3h0.6V346.2h-0.6ZM767.0,346.2h0.6V353.1h-0.6ZM767.6,343.9h0.6V346.2h-0.6ZM767.6,346.2h0.6V350.1h-0.6ZM768.2,346.2h0.6V352.7h-0.6ZM768.8,346.2h0.6V352.9h-0.6ZM769.4,346.2h0.6V363.5h-0.6ZM770.0,346.2h0.6V368.9h-0.6ZM770.6,346.2h0.6V373.4h-0.6ZM771.2,346.2h0.6V375.5h-0.6ZM771.8,346.2h0.6V368.0h-0.6ZM772.4,346.2h0.6V379.7h-0.6ZM773.0,346.2h0.6V381.5h-0.6ZM773.6,346.2h0.6V368.5h-0.6ZM774.2,346.2h0.6V375.4h-0.6ZM774.8,346.2h0.6V369.7h-0.6ZM775.4,346.2h0.6V358.0h-0.6ZM776.0,346.2h0.6V360.2h-0.6ZM776.6,346.2h0.6V357.0h-0.6ZM777.2,346.2h0.6V353.7h-0.6ZM777.8,346.2h0.6V350.5h-0.6ZM778.4,346.2h0.6V350.6h-0.6ZM779.0,346.2h0.6V349.2h-0.6ZM779.6,340.3h0.6V346.2h-0.6ZM779.6,346.2h0.6V349.5h-0.6ZM780.2,334.4h0.6V346.2h-0.6ZM780.2,346.2h0.6V350.1h-0.6ZM780.8,333.2h0.6V346.2h-0.6ZM780.8,346.2h0.6V348.1h-0.6ZM781.4,322.7h0.6V346.2h-0.6ZM781.4,346.2h0.6V351.1h-0.6ZM782.0,318.2h0.6V346.2h-0.6ZM782.0,346.2h0.6V348.6h-0.6ZM782.6,321.8h0.6V346.2h-0.6ZM782.6,346.2h0.6V349.4h-0.6ZM783.2,303.8h0.6V346.2h-0.6ZM783.2,346.2h0.6V349.6h-0.6ZM783.8,297.7h0.6V346.2h-0.6ZM783.8,346.2h0.6V350.8h-0.6ZM784.4,298.2h0.6V346.2h-0.6ZM784.4,346.2h0.6V349.6h-0.6ZM785.0,307.6h0.6V346.2h-0.6ZM785.0,346.2h0.6V351.0h-0.6ZM785.6,318.3h0.6V346.2h-0.6ZM786.2,333.0h0.6V346.2h-0.6ZM786.2,346.2h0.6V350.3h-0.6ZM786.8,333.9h0.6V346.2h-0.6ZM786.8,346.2h0.6V350.2h-0.6ZM787.4,339.9h0.6V346.2h-0.6ZM787.4,346.2h0.6V350.3h-0.6ZM788.0,340.9h0.6V346.2h-0.6ZM788.0,346.2h0.6V348.0h-0.6ZM788.6,345.6h0.6V346.2h-0.6ZM788.6,346.2h0.6V356.8h-0.6ZM789.2,346.2h0.6V368.2h-0.6ZM789.8,346.2h0.6V377.6h-0.6ZM790.4,346.2h0.6V386.6h-0.6ZM791.0,346.2h0.6V389.1h-0.6ZM791.6,346.2h0.6V379.1h-0.6ZM792.2,346.2h0.6V374.2h-0.6ZM792.8,346.2h0.6V363.1h-0.6ZM793.4,346.2h0.6V358.9h-0.6ZM794.0,346.2h0.6V358.4h-0.6ZM794.6,346.2h0.6V356.4h-0.6ZM795.2,346.2h0.6V355.9h-0.6ZM795.8,346.2h0.6V354.7h-0.6ZM796.4,346.2h0.6V353.2h-0.6ZM797.0,346.2h0.6V349.9h-0.6ZM797.6,346.2h0.6V349.6h-0.6ZM798.2,342.9h0.6V346.2h-0.6ZM798.2,346.2h0.6V347.8h-0.6ZM798.8,334.1h0.6V346.2h-0.6ZM799.4,324.6h0.6V346.2h-0.6ZM800.0,315.1h0.6V346.2h-0.6ZM800.6,308.4h0.6V346.2h-0.6ZM801.2,319.9h0.6V346.2h-0.6ZM801.8,326.1h0.6V346.2h-0.6ZM802.4,319.2h0.6V346.2h-0.6ZM803.0,330.2h0.6V346.2h-0.6ZM803.6,317.7h0.6V346.2h-0.6ZM804.2,317.2h0.6V346.2h-0.6ZM804.8,313.3h0.6V346.2h-0.6ZM805.4,317.7h0.6V346.2h-0.6ZM806.0,304.9h0.6V346.2h-0.6ZM806.6,313.9h0.6V346.2h-0.6ZM807.2,321.8h0.6V346.2h-0.6ZM807.8,319.4h0.6V346.2h-0.6ZM808.4,329.6h0.6V346.2h-0.6ZM809.0,319.8h0.6V346.2h-0.6ZM809.6,318.6h0.6V346.2h-0.6ZM810.2,317.2h0.6V346.2h-0.6ZM810.8,327.0h0.6V346.2h-0.6ZM811.4,313.9h0.6V346.2h-0.6ZM812.0,312.3h0.6V346.2h-0.6ZM812.6,320.0h0.6V346.2h-0.6ZM813.2,321.8h0.6V346.2h-0.6ZM813.8,307.3h0.6V346.2h-0.6ZM814.4,305.7h0.6V346.2h-0.6ZM815.0,303.2h0.6V346.2h-0.6ZM815.6,299.9h0.6V346.2h-0.6ZM816.2,303.3h0.6V346.2h-0.6ZM816.8,303.2h0.6V346.2h-0.6ZM817.4,291.8h0.6V346.2h-0.6ZM818.0,293.8h0.6V346.2h-0.6ZM818.6,297.6h0.6V346.2h-0.6ZM819.2,305.4h0.6V346.2h-0.6ZM819.8,305.4h0.6V346.2h-0.6ZM820.4,321.1h0.6V346.2h-0.6ZM821.0,301.7h0.6V346.2h-0.6ZM821.6,303.4h0.6V346.2h-0.6ZM822.2,305.2h0.6V346.2h-0.6ZM822.8,324.1h0.6V346.2h-0.6ZM823.4,324.9h0.6V346.2h-0.6ZM824.0,330.4h0.6V346.2h-0.6ZM824.6,335.3h0.6V346.2h-0.6ZM825.2,341.1h0.6V346.2h-0.6ZM825.8,340.3h0.6V346.2h-0.6ZM826.4,339.5h0.6V346.2h-0.6ZM827.0,336.5h0.6V346.2h-0.6ZM827.6,331.7h0.6V346.2h-0.6ZM828.2,333.3h0.6V346.2h-0.6ZM828.8,324.3h0.6V346.2h-0.6ZM829.4,313.5h0.6V346.2h-0.6ZM830.0,300.8h0.6V346.2h-0.6ZM830.6,313.7h0.6V346.2h-0.6ZM831.2,279.3h0.6V346.2h-0.6ZM831.8,273.9h0.6V346.2h-0.6ZM832.4,268.5h0.6V346.2h-0.6ZM833.0,263.1h0.6V346.2h-0.6ZM833.6,260.9h0.6V346.2h-0.6ZM834.2,296.2h0.6V346.2h-0.6ZM834.8,271.7h0.6V346.2h-0.6ZM835.4,298.9h0.6V346.2h-0.6ZM836.0,298.8h0.6V346.2h-0.6ZM836.6,265.4h0.6V346.2h-0.6ZM837.2,256.1h0.6V346.2h-0.6ZM837.8,261.6h0.6V346.2h-0.6ZM838.4,285.0h0.6V346.2h-0.6ZM839.0,305.0h0.6V346.2h-0.6ZM839.6,284.1h0.6V346.2h-0.6ZM840.2,288.9h0.6V346.2h-0.6ZM840.8,293.7h0.6V346.2h-0.6ZM841.4,294.9h0.6V346.2h-0.6ZM842.0,256.2h0.6V346.2h-0.6ZM842.6,233.7h0.6V346.2h-0.6ZM843.2,227.6h0.6V346.2h-0.6ZM843.8,235.1h0.6V346.2h-0.6ZM844.4,245.3h0.6V346.2h-0.6ZM845.0,255.6h0.6V346.2h-0.6ZM845.6,277.2h0.6V346.2h-0.6ZM846.2,284.2h0.6V346.2h-0.6ZM846.8,298.6h0.6V346.2h-0.6ZM847.4,309.6h0.6V346.2h-0.6ZM848.0,315.4h0.6V346.2h-0.6ZM848.6,313.3h0.6V346.2h-0.6ZM849.2,298.9h0.6V346.2h-0.6ZM849.8,303.9h0.6V346.2h-0.6ZM850.4,311.9h0.6V346.2h-0.6ZM851.0,315.7h0.6V346.2h-0.6ZM851.6,307.6h0.6V346.2h-0.6ZM852.2,310.3h0.6V346.2h-0.6ZM852.8,281.9h0.6V346.2h-0.6ZM853.4,264.9h0.6V346.2h-0.6ZM854.0,263.3h0.6V346.2h-0.6ZM854.6,281.6h0.6V346.2h-0.6ZM855.2,294.0h0.6V346.2h-0.6ZM855.8,300.4h0.6V346.2h-0.6ZM856.4,305.9h0.6V346.2h-0.6ZM857.0,293.3h0.6V346.2h-0.6ZM857.6,279.9h0.6V346.2h-0.6ZM858.2,284.2h0.6V346.2h-0.6ZM858.8,304.7h0.6V346.2h-0.6ZM859.4,304.9h0.6V346.2h-0.6ZM860.0,302.6h0.6V346.2h-0.6ZM860.6,292.2h0.6V346.2h-0.6ZM861.2,292.4h0.6V346.2h-0.6ZM861.8,270.4h0.6V346.2h-0.6ZM862.4,285.5h0.6V346.2h-0.6ZM863.0,271.4h0.6V346.2h-0.6ZM863.6,297.6h0.6V346.2h-0.6ZM864.2,290.1h0.6V346.2h-0.6ZM864.8,293.9h0.6V346.2h-0.6ZM865.4,311.5h0.6V346.2h-0.6ZM866.0,319.9h0.6V346.2h-0.6ZM866.6,313.4h0.6V346.2h-0.6ZM867.2,314.0h0.6V346.2h-0.6ZM867.8,314.6h0.6V346.2h-0.6ZM868.4,315.2h0.6V346.2h-0.6ZM869.0,327.9h0.6V346.2h-0.6ZM869.0,346.2h0.6V349.2h-0.6ZM869.6,339.5h0.6V346.2h-0.6ZM870.2,346.2h0.6V349.1h-0.6ZM870.8,346.2h0.6V358.6h-0.6ZM871.4,346.2h0.6V360.1h-0.6ZM872.0,346.2h0.6V359.2h-0.6ZM872.6,346.2h0.6V357.2h-0.6ZM873.2,346.2h0.6V353.5h-0.6ZM873.8,346.2h0.6V353.2h-0.6ZM874.4,346.2h0.6V355.4h-0.6ZM875.0,346.2h0.6V356.0h-0.6ZM875.6,346.2h0.6V364.0h-0.6ZM876.2,346.2h0.6V365.9h-0.6ZM876.8,346.2h0.6V358.1h-0.6ZM877.4,346.2h0.6V362.1h-0.6ZM878.0,346.2h0.6V356.3h-0.6ZM878.6,346.2h0.6V357.3h-0.6ZM879.2,346.2h0.6V355.5h-0.6ZM879.8,346.2h0.6V365.0h-0.6ZM880.4,341.2h0.6V346.2h-0.6ZM880.4,346.2h0.6V360.0h-0.6ZM881.0,340.7h0.6V346.2h-0.6ZM881.0,346.2h0.6V373.4h-0.6ZM881.6,340.3h0.6V346.2h-0.6ZM881.6,346.2h0.6V373.6h-0.6ZM882.2,341.0h0.6V346.2h-0.6ZM882.2,346.2h0.6V367.2h-0.6ZM882.8,339.9h0.6V346.2h-0.6ZM882.8,346.2h0.6V361.3h-0.6ZM883.4,337.0h0.6V346.2h-0.6ZM883.4,346.2h0.6V352.2h-0.6ZM884.0,331.0h0.6V346.2h-0.6ZM884.0,346.2h0.6V348.6h-0.6ZM884.6,325.1h0.6V346.2h-0.6ZM885.2,322.3h0.6V346.2h-0.6ZM885.8,324.2h0.6V346.2h-0.6ZM886.4,323.4h0.6V346.2h-0.6ZM887.0,320.5h0.6V346.2h-0.6ZM887.6,330.5h0.6V346.2h-0.6ZM888.2,331.0h0.6V346.2h-0.6ZM888.8,320.7h0.6V346.2h-0.6ZM889.4,328.3h0.6V346.2h-0.6ZM890.0,328.2h0.6V346.2h-0.6ZM890.6,320.6h0.6V346.2h-0.6ZM891.2,332.8h0.6V346.2h-0.6ZM891.8,330.1h0.6V346.2h-0.6ZM892.4,336.3h0.6V346.2h-0.6ZM893.0,334.9h0.6V346.2h-0.6ZM893.6,335.5h0.6V346.2h-0.6ZM894.2,339.7h0.6V346.2h-0.6ZM894.8,328.0h0.6V346.2h-0.6ZM895.4,321.5h0.6V346.2h-0.6ZM896.0,310.3h0.6V346.2h-0.6ZM896.6,306.5h0.6V346.2h-0.6ZM897.2,321.5h0.6V346.2h-0.6ZM897.8,294.9h0.6V346.2h-0.6ZM898.4,303.6h0.6V346.2h-0.6ZM899.0,279.8h0.6V346.2h-0.6ZM899.6,303.5h0.6V346.2h-0.6ZM900.2,303.3h0.6V346.2h-0.6ZM900.8,302.5h0.6V346.2h-0.6ZM901.4,283.6h0.6V346.2h-0.6ZM902.0,282.2h0.6V346.2h-0.6ZM902.6,290.2h0.6V346.2h-0.6ZM903.2,305.1h0.6V346.2h-0.6ZM903.8,314.4h0.6V346.2h-0.6ZM904.4,313.2h0.6V346.2h-0.6ZM905.0,317.7h0.6V346.2h-0.6ZM905.6,331.9h0.6V346.2h-0.6ZM906.2,328.5h0.6V346.2h-0.6ZM906.8,329.8h0.6V346.2h-0.6ZM906.8,346.2h0.6V347.9h-0.6ZM907.4,333.5h0.6V346.2h-0.6ZM907.4,346.2h0.6V348.2h-0.6ZM908.0,339.5h0.6V346.2h-0.6ZM908.0,346.2h0.6V349.2h-0.6ZM908.6,341.8h0.6V346.2h-0.6ZM908.6,346.2h0.6V348.4h-0.6ZM909.2,346.2h0.6V348.7h-0.6ZM909.8,344.4h0.6V346.2h-0.6ZM909.8,346.2h0.6V347.7h-0.6ZM910.4,342.6h0.6V346.2h-0.6ZM910.4,346.2h0.6V348.1h-0.6ZM911.0,343.0h0.6V346.2h-0.6ZM911.0,346.2h0.6V348.2h-0.6ZM911.6,342.9h0.6V346.2h-0.6ZM911.6,346.2h0.6V349.2h-0.6ZM912.2,343.2h0.6V346.2h-0.6ZM912.2,346.2h0.6V351.3h-0.6ZM912.8,344.5h0.6V346.2h-0.6ZM912.8,346.2h0.6V353.5h-0.6ZM913.4,342.9h0.6V346.2h-0.6ZM913.4,346.2h0.6V355.7h-0.6ZM914.0,346.2h0.6V357.9h-0.6ZM914.6,343.7h0.6V346.2h-0.6ZM914.6,346.2h0.6V356.8h-0.6ZM915.2,343.7h0.6V346.2h-0.6ZM915.2,346.2h0.6V362.3h-0.6ZM915.8,343.2h0.6V346.2h-0.6ZM915.8,346.2h0.6V364.9h-0.6ZM916.4,342.8h0.6V346.2h-0.6ZM916.4,346.2h0.6V358.8h-0.6ZM917.0,343.2h0.6V346.2h-0.6ZM917.0,346.2h0.6V360.6h-0.6ZM917.6,339.8h0.6V346.2h-0.6ZM917.6,346.2h0.6V371.0h-0.6ZM918.2,329.8h0.6V346.2h-0.6ZM918.2,346.2h0.6V364.1h-0.6ZM918.8,330.5h0.6V346.2h-0.6ZM918.8,346.2h0.6V352.6h-0.6ZM919.4,340.0h0.6V346.2h-0.6ZM919.4,346.2h0.6V348.1h-0.6ZM920.0,342.3h0.6V346.2h-0.6ZM920.0,346.2h0.6V348.1h-0.6ZM920.6,342.4h0.6V346.2h-0.6ZM920.6,346.2h0.6V348.0h-0.6ZM921.2,344.1h0.6V346.2h-0.6ZM921.2,346.2h0.6V348.3h-0.6ZM921.8,342.3h0.6V346.2h-0.6ZM921.8,346.2h0.6V349.8h-0.6ZM922.4,343.5h0.6V346.2h-0.6ZM922.4,346.2h0.6V352.2h-0.6ZM923.0,343.6h0.6V346.2h-0.6ZM923.0,346.2h0.6V354.2h-0.6ZM923.6,342.7h0.6V346.2h-0.6ZM923.6,346.2h0.6V353.3h-0.6ZM924.2,343.0h0.6V346.2h-0.6ZM924.2,346.2h0.6V352.4h-0.6ZM924.8,343.1h0.6V346.2h-0.6ZM924.8,346.2h0.6V351.5h-0.6ZM925.4,343.7h0.6V346.2h-0.6ZM925.4,346.2h0.6V349.5h-0.6ZM926.0,343.4h0.6V346.2h-0.6ZM926.0,346.2h0.6V349.7h-0.6ZM926.6,343.9h0.6V346.2h-0.6ZM926.6,346.2h0.6V348.7h-0.6ZM927.2,332.8h0.6V346.2h-0.6ZM927.2,346.2h0.6V348.2h-0.6ZM927.8,317.6h0.6V346.2h-0.6ZM927.8,346.2h0.6V348.3h-0.6ZM928.4,306.0h0.6V346.2h-0.6ZM928.4,346.2h0.6V348.1h-0.6ZM929.0,307.2h0.6V346.2h-0.6ZM929.0,346.2h0.6V347.7h-0.6ZM929.6,327.6h0.6V346.2h-0.6ZM929.6,346.2h0.6V349.0h-0.6ZM930.2,337.2h0.6V346.2h-0.6ZM930.2,346.2h0.6V348.0h-0.6ZM930.8,343.7h0.6V346.2h-0.6ZM930.8,346.2h0.6V348.7h-0.6ZM931.4,343.7h0.6V346.2h-0.6ZM931.4,346.2h0.6V347.9h-0.6ZM932.0,342.6h0.6V346.2h-0.6ZM932.0,346.2h0.6V349.0h-0.6ZM932.6,343.6h0.6V346.2h-0.6ZM932.6,346.2h0.6V348.2h-0.6ZM933.2,346.2h0.6V352.1h-0.6ZM933.8,346.2h0.6V358.7h-0.6ZM934.4,346.2h0.6V367.2h-0.6ZM935.0,346.2h0.6V366.1h-0.6ZM935.6,346.2h0.6V372.3h-0.6ZM936.2,346.2h0.6V387.8h-0.6ZM936.8,346.2h0.6V382.1h-0.6ZM937.4,346.2h0.6V402.1h-0.6ZM938.0,346.2h0.6V399.3h-0.6ZM938.6,346.2h0.6V378.0h-0.6ZM939.2,346.2h0.6V368.7h-0.6ZM939.8,346.2h0.6V374.3h-0.6ZM940.4,346.2h0.6V384.7h-0.6ZM941.0,346.2h0.6V387.7h-0.6ZM941.6,346.2h0.6V386.8h-0.6ZM942.2,346.2h0.6V409.8h-0.6ZM942.8,346.2h0.6V402.6h-0.6ZM943.4,346.2h0.6V451.2h-0.6ZM944.0,346.2h0.6V418.1h-0.6ZM944.6,346.2h0.6V423.5h-0.6ZM945.2,346.2h0.6V402.2h-0.6ZM945.8,346.2h0.6V417.0h-0.6ZM946.4,346.2h0.6V419.9h-0.6ZM947.0,346.2h0.6V440.9h-0.6ZM947.6,346.2h0.6V427.8h-0.6ZM948.2,346.2h0.6V413.2h-0.6ZM948.8,346.2h0.6V398.7h-0.6ZM949.4,346.2h0.6V373.6h-0.6ZM950.0,346.2h0.6V377.5h-0.6ZM950.6,346.2h0.6V388.3h-0.6ZM951.2,346.2h0.6V377.5h-0.6ZM951.8,346.2h0.6V371.5h-0.6ZM952.4,346.2h0.6V374.6h-0.6ZM953.0,346.2h0.6V375.2h-0.6ZM953.6,346.2h0.6V376.4h-0.6ZM954.2,346.2h0.6V377.6h-0.6ZM954.8,346.2h0.6V380.0h-0.6ZM955.4,346.2h0.6V383.8h-0.6ZM956.0,346.2h0.6V385.1h-0.6ZM956.6,346.2h0.6V396.2h-0.6ZM957.2,346.2h0.6V413.5h-0.6ZM957.8,346.2h0.6V395.1h-0.6ZM958.4,346.2h0.6V424.0h-0.6ZM959.0,346.2h0.6V413.9h-0.6ZM959.6,346.2h0.6V380.3h-0.6ZM960.2,346.2h0.6V392.2h-0.6ZM960.8,346.2h0.6V374.1h-0.6ZM961.4,346.2h0.6V384.8h-0.6ZM962.0,346.2h0.6V376.7h-0.6ZM962.6,346.2h0.6V378.0h-0.6ZM963.2,346.2h0.6V370.3h-0.6ZM963.8,346.2h0.6V390.3h-0.6ZM964.4,346.2h0.6V379.3h-0.6ZM965.0,346.2h0.6V407.2h-0.6ZM965.6,346.2h0.6V417.2h-0.6ZM966.2,346.2h0.6V435.4h-0.6ZM966.8,346.2h0.6V439.6h-0.6ZM967.4,346.2h0.6V423.8h-0.6ZM968.0,346.2h0.6V401.6h-0.6ZM968.6,346.2h0.6V399.2h-0.6ZM969.2,346.2h0.6V404.0h-0.6ZM969.8,346.2h0.6V393.5h-0.6ZM970.4,346.2h0.6V417.6h-0.6ZM971.0,346.2h0.6V438.2h-0.6ZM971.6,346.2h0.6V430.0h-0.6ZM972.2,346.2h0.6V481.8h-0.6ZM972.8,346.2h0.6V486.1h-0.6ZM973.4,346.2h0.6V434.0h-0.6ZM974.0,346.2h0.6V412.5h-0.6ZM974.6,346.2h0.6V403.9h-0.6ZM975.2,346.2h0.6V444.7h-0.6ZM975.8,346.2h0.6V453.8h-0.6ZM976.4,346.2h0.6V448.2h-0.6ZM977.0,346.2h0.6V438.4h-0.6ZM977.6,346.2h0.6V396.4h-0.6ZM978.2,346.2h0.6V429.0h-0.6ZM978.8,346.2h0.6V501.1h-0.6ZM979.4,346.2h0.6V531.4h-0.6ZM980.0,346.2h0.6V528.3h-0.6ZM980.6,346.2h0.6V443.5h-0.6ZM981.2,346.2h0.6V489.8h-0.6ZM981.8,346.2h0.6V420.9h-0.6ZM982.4,346.2h0.6V385.0h-0.6ZM983.0,346.2h0.6V372.5h-0.6ZM983.6,345.8h0.6V346.2h-0.6ZM983.6,346.2h0.6V351.9h-0.6ZM984.2,342.7h0.6V346.2h-0.6ZM984.8,339.8h0.6V346.2h-0.6ZM985.4,336.8h0.6V346.2h-0.6ZM986.0,334.5h0.6V346.2h-0.6ZM986.6,335.1h0.6V346.2h-0.6ZM987.2,337.3h0.6V346.2h-0.6ZM987.8,340.5h0.6V346.2h-0.6ZM988.4,345.0h0.6V346.2h-0.6ZM989.0,341.1h0.6V346.2h-0.6ZM989.6,341.7h0.6V346.2h-0.6ZM990.2,341.5h0.6V346.2h-0.6ZM990.2,346.2h0.6V350.4h-0.6ZM990.8,338.1h0.6V346.2h-0.6ZM990.8,346.2h0.6V357.1h-0.6ZM991.4,341.4h0.6V346.2h-0.6ZM991.4,346.2h0.6V362.8h-0.6ZM992.0,338.0h0.6V346.2h-0.6ZM992.0,346.2h0.6V365.9h-0.6ZM992.6,339.1h0.6V346.2h-0.6ZM992.6,346.2h0.6V362.8h-0.6ZM993.2,342.0h0.6V346.2h-0.6ZM993.2,346.2h0.6V354.9h-0.6ZM993.8,331.4h0.6V346.2h-0.6ZM993.8,346.2h0.6V348.7h-0.6ZM994.4,320.0h0.6V346.2h-0.6ZM995.0,319.4h0.6V346.2h-0.6ZM995.6,321.1h0.6V346.2h-0.6ZM996.2,318.2h0.6V346.2h-0.6ZM996.8,320.3h0.6V346.2h-0.6ZM997.4,317.0h0.6V346.2h-0.6ZM998.0,326.7h0.6V346.2h-0.6ZM998.6,315.8h0.6V346.2h-0.6ZM999.2,315.5h0.6V346.2h-0.6ZM999.8,318.2h0.6V346.2h-0.6ZM1000.4,333.2h0.6V346.2h-0.6ZM1001.0,330.0h0.6V346.2h-0.6ZM1001.6,335.0h0.6V346.2h-0.6ZM1002.2,341.0h0.6V346.2h-0.6ZM1002.8,341.3h0.6V346.2h-0.6ZM1003.4,338.6h0.6V346.2h-0.6ZM1004.0,339.4h0.6V346.2h-0.6ZM1004.6,339.0h0.6V346.2h-0.6ZM1005.2,340.0h0.6V346.2h-0.6ZM1005.8,339.7h0.6V346.2h-0.6ZM1006.4,339.7h0.6V346.2h-0.6ZM1007.0,339.0h0.6V346.2h-0.6ZM1007.6,341.6h0.6V346.2h-0.6ZM1008.8,342.7h0.6V346.2h-0.6ZM1009.4,339.1h0.6V346.2h-0.6ZM1010.0,342.5h0.6V346.2h-0.6ZM1010.6,334.3h0.6V346.2h-0.6ZM1011.2,334.5h0.6V346.2h-0.6ZM1011.8,320.2h0.6V346.2h-0.6ZM1012.4,314.7h0.6V346.2h-0.6ZM1013.0,309.1h0.6V346.2h-0.6ZM1013.6,307.2h0.6V346.2h-0.6ZM1014.2,311.9h0.6V346.2h-0.6ZM1014.8,319.2h0.6V346.2h-0.6ZM1015.4,326.5h0.6V346.2h-0.6ZM1016.0,330.7h0.6V346.2h-0.6ZM1016.6,333.2h0.6V346.2h-0.6ZM1017.2,323.8h0.6V346.2h-0.6ZM1017.8,326.8h0.6V346.2h-0.6ZM1018.4,322.6h0.6V346.2h-0.6ZM1019.0,325.7h0.6V346.2h-0.6ZM1019.6,327.8h0.6V346.2h-0.6ZM1020.2,330.2h0.6V346.2h-0.6ZM1020.8,330.6h0.6V346.2h-0.6ZM1021.4,316.8h0.6V346.2h-0.6ZM1022.0,315.5h0.6V346.2h-0.6ZM1022.6,327.7h0.6V346.2h-0.6ZM1022.6,346.2h0.6V351.9h-0.6ZM1023.2,343.8h0.6V346.2h-0.6ZM1023.2,346.2h0.6V359.5h-0.6ZM1023.8,343.9h0.6V346.2h-0.6ZM1023.8,346.2h0.6V365.9h-0.6ZM1024.4,344.4h0.6V346.2h-0.6ZM1024.4,346.2h0.6V357.7h-0.6ZM1025.0,344.1h0.6V346.2h-0.6ZM1025.0,346.2h0.6V364.3h-0.6ZM1025.6,343.0h0.6V346.2h-0.6ZM1025.6,346.2h0.6V360.1h-0.6ZM1026.2,346.2h0.6V356.0h-0.6ZM1026.8,343.2h0.6V346.2h-0.6ZM1026.8,346.2h0.6V355.9h-0.6ZM1027.4,342.7h0.6V346.2h-0.6ZM1027.4,346.2h0.6V352.3h-0.6ZM1028.0,343.9h0.6V346.2h-0.6ZM1028.0,346.2h0.6V352.0h-0.6ZM1028.6,343.4h0.6V346.2h-0.6ZM1028.6,346.2h0.6V348.7h-0.6ZM1029.2,344.0h0.6V346.2h-0.6ZM1029.2,346.2h0.6V348.0h-0.6ZM1029.8,342.3h0.6V346.2h-0.6ZM1029.8,346.2h0.6V347.8h-0.6ZM1030.4,344.0h0.6V346.2h-0.6ZM1030.4,346.2h0.6V348.3h-0.6ZM1031.0,337.3h0.6V346.2h-0.6ZM1031.6,339.0h0.6V346.2h-0.6ZM1032.2,334.6h0.6V346.2h-0.6ZM1032.8,332.0h0.6V346.2h-0.6ZM1033.4,322.7h0.6V346.2h-0.6ZM1034.0,312.0h0.6V346.2h-0.6ZM1034.6,317.0h0.6V346.2h-0.6ZM1035.2,312.6h0.6V346.2h-0.6ZM1035.8,279.8h0.6V346.2h-0.6ZM1036.4,286.1h0.6V346.2h-0.6ZM1037.0,287.5h0.6V346.2h-0.6ZM1037.6,307.0h0.6V346.2h-0.6ZM1038.2,302.5h0.6V346.2h-0.6ZM1038.8,312.6h0.6V346.2h-0.6ZM1039.4,305.8h0.6V346.2h-0.6ZM1040.0,307.0h0.6V346.2h-0.6ZM1040.6,313.8h0.6V346.2h-0.6ZM1041.2,308.8h0.6V346.2h-0.6ZM1041.8,296.2h0.6V346.2h-0.6ZM1042.4,302.2h0.6V346.2h-0.6ZM1043.0,291.7h0.6V346.2h-0.6ZM1043.6,295.6h0.6V346.2h-0.6ZM1044.2,300.1h0.6V346.2h-0.6ZM1044.8,304.0h0.6V346.2h-0.6ZM1045.4,321.0h0.6V346.2h-0.6ZM1046.0,312.6h0.6V346.2h-0.6ZM1046.6,298.8h0.6V346.2h-0.6ZM1047.2,299.8h0.6V346.2h-0.6ZM1047.8,304.6h0.6V346.2h-0.6ZM1048.4,318.9h0.6V346.2h-0.6ZM1049.0,314.2h0.6V346.2h-0.6ZM1049.6,308.7h0.6V346.2h-0.6ZM1050.2,301.2h0.6V346.2h-0.6ZM1050.8,293.7h0.6V346.2h-0.6ZM1051.4,288.2h0.6V346.2h-0.6ZM1052.0,303.7h0.6V346.2h-0.6ZM1052.6,315.4h0.6V346.2h-0.6ZM1053.2,300.8h0.6V346.2h-0.6ZM1053.8,304.1h0.6V346.2h-0.6ZM1054.4,310.9h0.6V346.2h-0.6ZM1055.0,294.6h0.6V346.2h-0.6ZM1055.6,281.4h0.6V346.2h-0.6ZM1056.2,302.9h0.6V346.2h-0.6ZM1056.8,255.0h0.6V346.2h-0.6ZM1057.4,246.6h0.6V346.2h-0.6ZM1058.0,267.7h0.6V346.2h-0.6ZM1058.6,271.5h0.6V346.2h-0.6ZM1059.2,257.1h0.6V346.2h-0.6ZM1059.8,240.6h0.6V346.2h-0.6ZM1060.4,252.2h0.6V346.2h-0.6ZM1061.0,198.5h0.6V346.2h-0.6ZM1061.6,252.9h0.6V346.2h-0.6ZM1062.2,271.4h0.6V346.2h-0.6ZM1062.8,281.7h0.6V346.2h-0.6ZM1063.4,285.9h0.6V346.2h-0.6ZM1064.0,294.6h0.6V346.2h-0.6ZM1064.6,294.3h0.6V346.2h-0.6ZM1065.2,316.4h0.6V346.2h-0.6ZM1065.8,308.7h0.6V346.2h-0.6ZM1066.4,317.7h0.6V346.2h-0.6ZM1067.0,333.4h0.6V346.2h-0.6ZM1067.6,325.8h0.6V346.2h-0.6ZM1068.2,328.2h0.6V346.2h-0.6ZM1068.8,333.5h0.6V346.2h-0.6ZM1069.4,333.2h0.6V346.2h-0.6ZM1070.0,336.4h0.6V346.2h-0.6ZM1070.6,337.5h0.6V346.2h-0.6ZM1071.2,340.1h0.6V346.2h-0.6ZM1071.8,344.0h0.6V346.2h-0.6ZM1072.4,339.8h0.6V346.2h-0.6ZM1073.0,336.6h0.6V346.2h-0.6ZM1073.6,330.5h0.6V346.2h-0.6ZM1074.2,325.6h0.6V346.2h-0.6ZM1074.8,311.7h0.6V346.2h-0.6ZM1075.4,306.9h0.6V346.2h-0.6ZM1076.0,313.2h0.6V346.2h-0.6ZM1076.6,305.1h0.6V346.2h-0.6ZM1077.2,301.2h0.6V346.2h-0.6ZM1077.8,304.9h0.6V346.2h-0.6ZM1078.4,327.6h0.6V346.2h-0.6ZM1079.0,322.7h0.6V346.2h-0.6ZM1079.6,324.0h0.6V346.2h-0.6ZM1080.2,304.3h0.6V346.2h-0.6ZM1080.8,301.2h0.6V346.2h-0.6ZM1081.4,322.4h0.6V346.2h-0.6ZM1082.0,320.7h0.6V346.2h-0.6ZM1082.6,318.0h0.6V346.2h-0.6ZM1083.2,313.5h0.6V346.2h-0.6ZM1083.8,311.3h0.6V346.2h-0.6ZM1084.4,300.0h0.6V346.2h-0.6ZM1085.0,298.8h0.6V346.2h-0.6ZM1085.6,303.0h0.6V346.2h-0.6ZM1086.2,308.1h0.6V346.2h-0.6ZM1086.8,313.4h0.6V346.2h-0.6ZM1087.4,333.4h0.6V346.2h-0.6ZM1088.0,334.3h0.6V346.2h-0.6ZM1088.6,339.1h0.6V346.2h-0.6ZM1089.2,340.7h0.6V346.2h-0.6ZM1089.8,339.9h0.6V346.2h-0.6ZM1090.4,342.6h0.6V346.2h-0.6ZM1091.0,341.3h0.6V346.2h-0.6ZM1091.6,342.4h0.6V346.2h-0.6ZM1092.2,339.5h0.6V346.2h-0.6ZM1092.2,346.2h0.6V347.1h-0.6ZM1092.8,339.6h0.6V346.2h-0.6ZM1092.8,346.2h0.6V348.4h-0.6ZM1093.4,339.8h0.6V346.2h-0.6ZM1093.4,346.2h0.6V349.1h-0.6ZM1094.0,339.6h0.6V346.2h-0.6ZM1094.0,346.2h0.6V348.4h-0.6ZM1094.6,339.7h0.6V346.2h-0.6ZM1094.6,346.2h0.6V347.0h-0.6ZM1095.2,329.1h0.6V346.2h-0.6ZM1095.8,320.7h0.6V346.2h-0.6ZM1096.4,311.6h0.6V346.2h-0.6ZM1097.0,303.7h0.6V346.2h-0.6ZM1097.6,301.2h0.6V346.2h-0.6ZM1098.2,307.5h0.6V346.2h-0.6ZM1098.8,315.2h0.6V346.2h-0.6ZM1099.4,326.4h0.6V346.2h-0.6ZM1100.0,317.1h0.6V346.2h-0.6ZM1100.6,311.7h0.6V346.2h-0.6ZM1101.2,308.4h0.6V346.2h-0.6ZM1101.8,319.4h0.6V346.2h-0.6ZM1102.4,312.2h0.6V346.2h-0.6ZM1103.0,319.4h0.6V346.2h-0.6ZM1103.6,321.5h0.6V346.2h-0.6ZM1104.2,316.8h0.6V346.2h-0.6ZM1104.8,304.6h0.6V346.2h-0.6ZM1105.4,285.3h0.6V346.2h-0.6ZM1106.0,273.0h0.6V346.2h-0.6ZM1106.6,259.2h0.6V346.2h-0.6ZM1107.2,245.4h0.6V346.2h-0.6ZM1107.8,231.6h0.6V346.2h-0.6ZM1108.4,220.4h0.6V346.2h-0.6ZM1109.0,223.3h0.6V346.2h-0.6ZM1109.6,238.7h0.6V346.2h-0.6ZM1110.2,254.2h0.6V346.2h-0.6ZM1110.8,284.4h0.6V346.2h-0.6ZM1111.4,263.2h0.6V346.2h-0.6ZM1112.0,295.1h0.6V346.2h-0.6ZM1112.6,284.3h0.6V346.2h-0.6ZM1113.2,293.2h0.6V346.2h-0.6ZM1113.8,278.0h0.6V346.2h-0.6ZM1114.4,288.2h0.6V346.2h-0.6ZM1115.0,312.1h0.6V346.2h-0.6ZM1115.6,305.1h0.6V346.2h-0.6ZM1116.2,320.4h0.6V346.2h-0.6ZM1116.8,322.3h0.6V346.2h-0.6ZM1117.4,317.6h0.6V346.2h-0.6ZM1118.0,306.3h0.6V346.2h-0.6ZM1118.6,300.3h0.6V346.2h-0.6ZM1119.2,312.2h0.6V346.2h-0.6ZM1119.8,291.7h0.6V346.2h-0.6ZM1120.4,296.1h0.6V346.2h-0.6ZM1121.0,303.9h0.6V346.2h-0.6ZM1121.6,311.7h0.6V346.2h-0.6ZM1122.2,327.1h0.6V346.2h-0.6ZM1122.8,317.7h0.6V346.2h-0.6ZM1123.4,323.3h0.6V346.2h-0.6ZM1124.0,316.0h0.6V346.2h-0.6ZM1124.6,306.0h0.6V346.2h-0.6ZM1125.2,326.6h0.6V346.2h-0.6ZM1125.8,324.2h0.6V346.2h-0.6ZM1126.4,327.8h0.6V346.2h-0.6ZM1127.0,331.5h0.6V346.2h-0.6ZM1127.6,332.0h0.6V346.2h-0.6ZM1128.2,330.7h0.6V346.2h-0.6ZM1128.8,333.5h0.6V346.2h-0.6ZM1129.4,329.9h0.6V346.2h-0.6ZM1130.0,329.8h0.6V346.2h-0.6ZM1130.6,336.1h0.6V346.2h-0.6ZM1131.2,332.5h0.6V346.2h-0.6ZM1131.8,334.3h0.6V346.2h-0.6ZM1132.4,336.1h0.6V346.2h-0.6ZM1133.0,341.7h0.6V346.2h-0.6ZM1133.6,338.9h0.6V346.2h-0.6ZM1134.2,340.9h0.6V346.2h-0.6ZM1134.8,341.5h0.6V346.2h-0.6Z" fill="rgba(242,150,50,0.5)"/>
<path d="M136.5,345.5 L150.5,346.0 L165.6,344.2 L175.7,341.2 L200.9,339.7 L231.0,343.7 L263.9,344.4 L294.0,341.7 L321.8,339.2 L357.0,339.2 L382.0,337.5 L400.0,338.5 L430.0,339.5 L456.9,341.7 L483.6,343.1 L510.4,342.8 L537.0,341.5 L560.0,340.6 L603.2,338.5 L643.4,336.9 L675.6,337.4 L715.0,339.6 L727.1,340.5 L788.5,339.9 L868.8,336.6 L906.6,336.3 L940.0,337.5 L1000.0,338.5 L1060.0,337.2 L1134.5,336.6" fill="none" stroke="#0000ff" stroke-width="2.2" stroke-linejoin="round"/>
<line x1="134" x2="1137" y1="581.3" y2="581.3" stroke="#e4e4e4" stroke-width="1"/>
<line x1="133.8" x2="133.8" y1="145.3" y2="581.3" stroke="#9a9a9a" stroke-width="1.2"/>
<line x1="1137.6" x2="1137.6" y1="145.3" y2="581.3" stroke="#a8a8f4" stroke-width="1.5"/>
<g font-size="11" fill="#3d4350"><text x="118.5" y="149.1" text-anchor="end">$1m</text><text x="118.5" y="208.0" text-anchor="end">$100k</text><text x="118.5" y="266.9" text-anchor="end">$10k</text><text x="118.5" y="325.8" text-anchor="end">$1k</text><text x="118.5" y="384.7" text-anchor="end">$100</text><text x="118.5" y="443.6" text-anchor="end">$10</text><text x="118.5" y="502.5" text-anchor="end">$1</text><text x="118.5" y="561.4" text-anchor="end">$0.10</text></g>
<g font-size="11" fill="#3d4350"><text x="1153" y="149.2">12K</text><text x="1153" y="182.7">10K</text><text x="1153" y="216.2">8K</text><text x="1153" y="249.7">6K</text><text x="1153" y="283.2">4K</text><text x="1153" y="316.7">2K</text><text x="1153" y="350.2">0</text><text x="1153" y="383.7">-2K</text><text x="1153" y="417.2">-4K</text><text x="1153" y="450.7">-6K</text><text x="1153" y="484.2">-8K</text><text x="1153" y="517.7">-10K</text><text x="1153" y="551.2">-12K</text><text x="1153" y="584.7">-14K</text></g>
<g stroke="#e6e6e6" stroke-width="1"><line x1="166.8" x2="166.8" y1="582" y2="592"/><line x1="234.6" x2="234.6" y1="582" y2="592"/><line x1="302.5" x2="302.5" y1="582" y2="592"/><line x1="370.2" x2="370.2" y1="582" y2="592"/><line x1="438.0" x2="438.0" y1="582" y2="592"/><line x1="505.8" x2="505.8" y1="582" y2="592"/><line x1="573.7" x2="573.7" y1="582" y2="592"/><line x1="641.5" x2="641.5" y1="582" y2="592"/><line x1="709.2" x2="709.2" y1="582" y2="592"/><line x1="777.0" x2="777.0" y1="582" y2="592"/><line x1="844.9" x2="844.9" y1="582" y2="592"/><line x1="912.7" x2="912.7" y1="582" y2="592"/><line x1="980.4" x2="980.4" y1="582" y2="592"/><line x1="1048.2" x2="1048.2" y1="582" y2="592"/><line x1="1116.1" x2="1116.1" y1="582" y2="592"/></g>
<g font-size="12.6" fill="#3d4350"><text x="166.8" y="607.8" text-anchor="middle">2011</text><text x="234.6" y="607.8" text-anchor="middle">2012</text><text x="302.5" y="607.8" text-anchor="middle">2013</text><text x="370.2" y="607.8" text-anchor="middle">2014</text><text x="438.0" y="607.8" text-anchor="middle">2015</text><text x="505.8" y="607.8" text-anchor="middle">2016</text><text x="573.7" y="607.8" text-anchor="middle">2017</text><text x="641.5" y="607.8" text-anchor="middle">2018</text><text x="709.2" y="607.8" text-anchor="middle">2019</text><text x="777.0" y="607.8" text-anchor="middle">2020</text><text x="844.9" y="607.8" text-anchor="middle">2021</text><text x="912.7" y="607.8" text-anchor="middle">2022</text><text x="980.4" y="607.8" text-anchor="middle">2023</text><text x="1048.2" y="607.8" text-anchor="middle">2024</text><text x="1116.1" y="607.8" text-anchor="middle">2025</text></g>
<path d="M1133.3,353.5 V567.7 M1133.3,567.7 H820" fill="none" stroke="#2f6fe8" stroke-width="1.3" stroke-dasharray="3 3.2"/>
<g font-size="17" font-weight="bold" fill="#0f55f2"><text x="812" y="542" textLength="284.4" lengthAdjust="spacingAndGlyphs">Vol-Adj Net Realized Profit/Loss is</text><text x="820" y="562.3" textLength="271.6" lengthAdjust="spacingAndGlyphs">Oscillating at Long-Term Median</text></g>
<text x="31.7" y="683.1" font-size="15.5" fill="#707070" textLength="283.9" lengthAdjust="spacingAndGlyphs">© 2025 Glassnode. All Rights Reserved.</text>
<g font-size="33.5" fill="#d6d6d6" stroke="#d6d6d6" stroke-width="0.7"><text transform="translate(1080.63,688) scale(1.150,1)">g</text><text transform="translate(1101.90,688) scale(1.000,1)">l</text><text transform="translate(1109.23,688) scale(1.007,1)">a</text><text transform="translate(1130.74,688) scale(0.865,1)">s</text><text transform="translate(1145.24,688) scale(0.865,1)">s</text><text transform="translate(1159.20,688) scale(1.063,1)">n</text><text transform="translate(1178.13,688) scale(1.077,1)">o</text><text transform="translate(1197.99,688) scale(1.177,1)">d</text><text transform="translate(1219.13,688) scale(1.082,1)">e</text></g>
</svg>
</body></html>
